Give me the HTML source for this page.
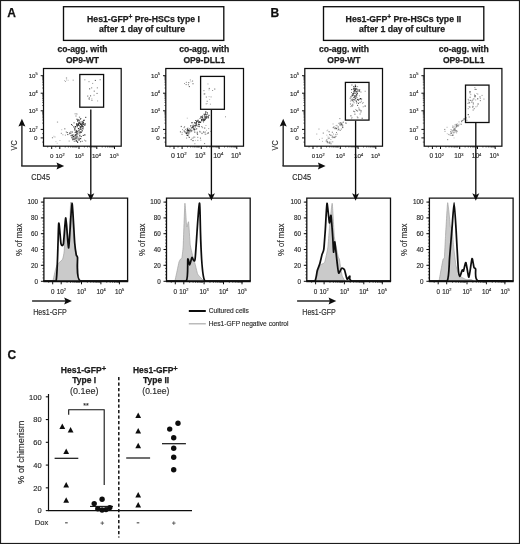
<!DOCTYPE html>
<html><head><meta charset="utf-8"><style>
html,body{margin:0;padding:0;background:#fff;}
svg{display:block;font-family:"Liberation Sans", sans-serif;}
text{paint-order:stroke;stroke:#2a2a2a;stroke-width:0.15px;}
text[font-weight=bold]{stroke:#1a1a1a;stroke-width:0.25px;}
</style></head><body>
<svg width="520" height="544" viewBox="0 0 520 544">
<defs><filter id="soft" x="0" y="0" width="100%" height="100%"><feGaussianBlur stdDeviation="0.3"/></filter></defs>
<g filter="url(#soft)">
<rect width="520" height="544" fill="#fff"/>
<rect x="0.50" y="0.50" width="519.00" height="543.00" fill="none" stroke="#1a1a1a" stroke-width="1.2"/>
<text x="7.20" y="16.90" font-size="12" font-weight="bold" text-anchor="start" fill="#111">A</text>
<text x="270.60" y="16.90" font-size="12" font-weight="bold" text-anchor="start" fill="#111">B</text>
<text x="7.40" y="359.30" font-size="12" font-weight="bold" text-anchor="start" fill="#111">C</text>
<rect x="63.50" y="6.70" width="160.30" height="33.70" fill="none" stroke="#111" stroke-width="1.35"/>
<text x="87.1" y="21.7" font-size="8.6" font-weight="bold" fill="#1a1a1a" textLength="112.8" lengthAdjust="spacingAndGlyphs">Hes1-GFP<tspan font-size="6.6" dy="-3.1">+</tspan><tspan dy="3.1"> Pre-HSCs type I</tspan></text>
<text x="99.00" y="31.80" font-size="8.6" font-weight="bold" text-anchor="start" fill="#1a1a1a" textLength="86" lengthAdjust="spacingAndGlyphs">after 1 day of culture</text>
<rect x="323.50" y="6.70" width="160.30" height="33.70" fill="none" stroke="#111" stroke-width="1.35"/>
<text x="345.6" y="21.7" font-size="8.6" font-weight="bold" fill="#1a1a1a" textLength="115.7" lengthAdjust="spacingAndGlyphs">Hes1-GFP<tspan font-size="6.6" dy="-3.1">+</tspan><tspan dy="3.1"> Pre-HSCs type II</tspan></text>
<text x="359.00" y="31.80" font-size="8.6" font-weight="bold" text-anchor="start" fill="#1a1a1a" textLength="86" lengthAdjust="spacingAndGlyphs">after 1 day of culture</text>
<text x="82.50" y="52.30" font-size="8.5" font-weight="bold" text-anchor="middle" fill="#1a1a1a" textLength="50" lengthAdjust="spacingAndGlyphs">co-agg. with</text>
<text x="82.50" y="62.90" font-size="8.5" font-weight="bold" text-anchor="middle" fill="#1a1a1a" textLength="33.2" lengthAdjust="spacingAndGlyphs">OP9-WT</text>
<text x="204.20" y="52.30" font-size="8.5" font-weight="bold" text-anchor="middle" fill="#1a1a1a" textLength="50" lengthAdjust="spacingAndGlyphs">co-agg. with</text>
<text x="204.20" y="62.90" font-size="8.5" font-weight="bold" text-anchor="middle" fill="#1a1a1a" textLength="41.5" lengthAdjust="spacingAndGlyphs">OP9-DLL1</text>
<text x="343.90" y="52.30" font-size="8.5" font-weight="bold" text-anchor="middle" fill="#1a1a1a" textLength="50" lengthAdjust="spacingAndGlyphs">co-agg. with</text>
<text x="343.90" y="62.90" font-size="8.5" font-weight="bold" text-anchor="middle" fill="#1a1a1a" textLength="33.2" lengthAdjust="spacingAndGlyphs">OP9-WT</text>
<text x="463.70" y="52.30" font-size="8.5" font-weight="bold" text-anchor="middle" fill="#1a1a1a" textLength="50" lengthAdjust="spacingAndGlyphs">co-agg. with</text>
<text x="463.70" y="62.90" font-size="8.5" font-weight="bold" text-anchor="middle" fill="#1a1a1a" textLength="41.5" lengthAdjust="spacingAndGlyphs">OP9-DLL1</text>
<rect x="76.3" y="124.9" width="1.1" height="1.1" fill="#4a4a4a"/>
<rect x="76.0" y="123.3" width="1.2" height="1.2" fill="#2c2c2c"/>
<rect x="76.0" y="124.3" width="0.9" height="0.9" fill="#2c2c2c"/>
<rect x="78.1" y="124.2" width="1.2" height="1.2" fill="#5a5a5a"/>
<rect x="77.2" y="119.7" width="1.1" height="1.1" fill="#4a4a4a"/>
<rect x="77.5" y="119.2" width="1.2" height="1.2" fill="#2c2c2c"/>
<rect x="82.7" y="123.9" width="0.9" height="0.9" fill="#1e1e1e"/>
<rect x="80.2" y="126.1" width="1.1" height="1.1" fill="#1e1e1e"/>
<rect x="77.9" y="128.0" width="1.2" height="1.2" fill="#2c2c2c"/>
<rect x="79.7" y="126.7" width="1.2" height="1.2" fill="#1e1e1e"/>
<rect x="82.8" y="126.3" width="1.2" height="1.2" fill="#4a4a4a"/>
<rect x="84.5" y="123.3" width="1.1" height="1.1" fill="#3a3a3a"/>
<rect x="79.7" y="118.9" width="0.9" height="0.9" fill="#1e1e1e"/>
<rect x="78.4" y="122.8" width="1.1" height="1.1" fill="#1e1e1e"/>
<rect x="74.5" y="129.8" width="0.9" height="0.9" fill="#1e1e1e"/>
<rect x="80.9" y="131.6" width="1.1" height="1.1" fill="#4a4a4a"/>
<rect x="82.1" y="123.0" width="1.2" height="1.2" fill="#1e1e1e"/>
<rect x="76.4" y="118.7" width="1.1" height="1.1" fill="#3a3a3a"/>
<rect x="81.5" y="125.3" width="0.9" height="0.9" fill="#4a4a4a"/>
<rect x="82.2" y="128.0" width="0.9" height="0.9" fill="#1e1e1e"/>
<rect x="76.6" y="124.5" width="0.9" height="0.9" fill="#5a5a5a"/>
<rect x="77.9" y="124.3" width="1.1" height="1.1" fill="#2c2c2c"/>
<rect x="78.7" y="122.0" width="0.9" height="0.9" fill="#4a4a4a"/>
<rect x="84.7" y="123.5" width="1.1" height="1.1" fill="#5a5a5a"/>
<rect x="80.0" y="123.5" width="1.1" height="1.1" fill="#2c2c2c"/>
<rect x="83.0" y="123.4" width="0.9" height="0.9" fill="#5a5a5a"/>
<rect x="80.9" y="124.1" width="1.1" height="1.1" fill="#4a4a4a"/>
<rect x="83.1" y="123.8" width="1.1" height="1.1" fill="#3a3a3a"/>
<rect x="80.5" y="124.2" width="1.2" height="1.2" fill="#5a5a5a"/>
<rect x="79.7" y="128.6" width="1.2" height="1.2" fill="#3a3a3a"/>
<rect x="73.2" y="126.3" width="1.2" height="1.2" fill="#4a4a4a"/>
<rect x="81.2" y="126.3" width="1.1" height="1.1" fill="#2c2c2c"/>
<rect x="83.5" y="119.7" width="1.2" height="1.2" fill="#2c2c2c"/>
<rect x="81.1" y="129.3" width="0.9" height="0.9" fill="#5a5a5a"/>
<rect x="78.5" y="120.0" width="1.2" height="1.2" fill="#4a4a4a"/>
<rect x="80.2" y="124.1" width="0.9" height="0.9" fill="#1e1e1e"/>
<rect x="77.5" y="123.3" width="1.1" height="1.1" fill="#4a4a4a"/>
<rect x="74.5" y="127.4" width="1.1" height="1.1" fill="#4a4a4a"/>
<rect x="73.6" y="122.4" width="0.9" height="0.9" fill="#1e1e1e"/>
<rect x="80.0" y="128.3" width="1.2" height="1.2" fill="#5a5a5a"/>
<rect x="81.1" y="124.7" width="1.2" height="1.2" fill="#2c2c2c"/>
<rect x="81.5" y="123.8" width="0.9" height="0.9" fill="#4a4a4a"/>
<rect x="81.0" y="124.4" width="1.2" height="1.2" fill="#3a3a3a"/>
<rect x="78.3" y="122.6" width="0.9" height="0.9" fill="#3a3a3a"/>
<rect x="85.1" y="116.8" width="1.2" height="1.2" fill="#5a5a5a"/>
<rect x="82.8" y="121.8" width="1.1" height="1.1" fill="#1e1e1e"/>
<rect x="82.9" y="120.3" width="0.9" height="0.9" fill="#1e1e1e"/>
<rect x="78.7" y="122.6" width="1.2" height="1.2" fill="#1e1e1e"/>
<rect x="79.0" y="125.4" width="0.9" height="0.9" fill="#1e1e1e"/>
<rect x="77.1" y="124.6" width="1.2" height="1.2" fill="#1e1e1e"/>
<rect x="79.4" y="121.5" width="1.1" height="1.1" fill="#3a3a3a"/>
<rect x="82.0" y="125.7" width="1.1" height="1.1" fill="#1e1e1e"/>
<rect x="80.1" y="123.2" width="1.2" height="1.2" fill="#4a4a4a"/>
<rect x="83.3" y="124.0" width="1.2" height="1.2" fill="#4a4a4a"/>
<rect x="80.5" y="123.6" width="1.2" height="1.2" fill="#1e1e1e"/>
<rect x="81.0" y="125.4" width="1.2" height="1.2" fill="#4a4a4a"/>
<rect x="76.6" y="131.3" width="1.1" height="1.1" fill="#5a5a5a"/>
<rect x="74.9" y="126.1" width="1.2" height="1.2" fill="#1e1e1e"/>
<rect x="79.5" y="122.6" width="0.9" height="0.9" fill="#5a5a5a"/>
<rect x="77.6" y="123.8" width="1.1" height="1.1" fill="#1e1e1e"/>
<rect x="80.2" y="118.0" width="1.1" height="1.1" fill="#4a4a4a"/>
<rect x="81.5" y="121.3" width="1.2" height="1.2" fill="#2c2c2c"/>
<rect x="77.1" y="120.5" width="1.2" height="1.2" fill="#3a3a3a"/>
<rect x="82.3" y="121.6" width="1.1" height="1.1" fill="#2c2c2c"/>
<rect x="77.9" y="125.1" width="0.9" height="0.9" fill="#4a4a4a"/>
<rect x="78.2" y="131.6" width="0.9" height="0.9" fill="#666"/>
<rect x="78.4" y="139.4" width="1.2" height="1.2" fill="#1e1e1e"/>
<rect x="85.3" y="140.5" width="0.9" height="0.9" fill="#3a3a3a"/>
<rect x="72.6" y="136.2" width="1.1" height="1.1" fill="#4a4a4a"/>
<rect x="72.1" y="139.1" width="1.2" height="1.2" fill="#666"/>
<rect x="81.2" y="123.0" width="1.1" height="1.1" fill="#888"/>
<rect x="76.4" y="135.6" width="1.2" height="1.2" fill="#1e1e1e"/>
<rect x="74.2" y="128.7" width="1.2" height="1.2" fill="#5a5a5a"/>
<rect x="75.7" y="134.1" width="1.1" height="1.1" fill="#3a3a3a"/>
<rect x="74.7" y="135.3" width="0.9" height="0.9" fill="#5a5a5a"/>
<rect x="76.7" y="126.2" width="1.1" height="1.1" fill="#2c2c2c"/>
<rect x="79.1" y="138.9" width="0.9" height="0.9" fill="#666"/>
<rect x="74.5" y="131.9" width="1.1" height="1.1" fill="#888"/>
<rect x="75.7" y="135.7" width="1.2" height="1.2" fill="#888"/>
<rect x="75.0" y="131.9" width="1.1" height="1.1" fill="#5a5a5a"/>
<rect x="66.6" y="132.0" width="1.1" height="1.1" fill="#3a3a3a"/>
<rect x="78.9" y="128.7" width="0.9" height="0.9" fill="#4a4a4a"/>
<rect x="68.7" y="140.6" width="0.9" height="0.9" fill="#777"/>
<rect x="73.1" y="136.0" width="1.1" height="1.1" fill="#1e1e1e"/>
<rect x="70.2" y="132.8" width="1.1" height="1.1" fill="#666"/>
<rect x="81.7" y="140.8" width="0.9" height="0.9" fill="#2c2c2c"/>
<rect x="75.7" y="140.0" width="1.1" height="1.1" fill="#2c2c2c"/>
<rect x="69.0" y="133.0" width="1.1" height="1.1" fill="#666"/>
<rect x="81.8" y="129.7" width="1.2" height="1.2" fill="#666"/>
<rect x="79.1" y="137.7" width="1.1" height="1.1" fill="#777"/>
<rect x="74.6" y="135.1" width="1.1" height="1.1" fill="#2c2c2c"/>
<rect x="76.2" y="132.1" width="1.2" height="1.2" fill="#666"/>
<rect x="76.0" y="132.3" width="1.2" height="1.2" fill="#3a3a3a"/>
<rect x="79.2" y="131.5" width="1.1" height="1.1" fill="#888"/>
<rect x="70.4" y="131.4" width="1.1" height="1.1" fill="#4a4a4a"/>
<rect x="72.4" y="134.3" width="1.2" height="1.2" fill="#3a3a3a"/>
<rect x="67.2" y="134.0" width="1.1" height="1.1" fill="#5a5a5a"/>
<rect x="71.0" y="124.0" width="1.1" height="1.1" fill="#4a4a4a"/>
<rect x="81.4" y="124.4" width="1.2" height="1.2" fill="#5a5a5a"/>
<rect x="71.6" y="135.1" width="1.2" height="1.2" fill="#2c2c2c"/>
<rect x="79.2" y="135.2" width="1.2" height="1.2" fill="#1e1e1e"/>
<rect x="79.6" y="131.9" width="1.1" height="1.1" fill="#2c2c2c"/>
<rect x="77.4" y="136.7" width="1.1" height="1.1" fill="#888"/>
<rect x="81.5" y="130.7" width="1.1" height="1.1" fill="#777"/>
<rect x="75.6" y="140.8" width="1.1" height="1.1" fill="#666"/>
<rect x="82.7" y="128.2" width="1.2" height="1.2" fill="#888"/>
<rect x="74.5" y="138.0" width="1.1" height="1.1" fill="#1e1e1e"/>
<rect x="80.0" y="141.3" width="0.9" height="0.9" fill="#1e1e1e"/>
<rect x="76.4" y="138.4" width="1.1" height="1.1" fill="#5a5a5a"/>
<rect x="75.0" y="131.3" width="0.9" height="0.9" fill="#888"/>
<rect x="70.5" y="135.0" width="1.2" height="1.2" fill="#5a5a5a"/>
<rect x="77.0" y="140.8" width="0.9" height="0.9" fill="#777"/>
<rect x="72.7" y="138.6" width="1.2" height="1.2" fill="#3a3a3a"/>
<rect x="77.0" y="141.8" width="1.2" height="1.2" fill="#4a4a4a"/>
<rect x="76.5" y="141.1" width="0.9" height="0.9" fill="#3a3a3a"/>
<rect x="80.1" y="131.4" width="0.9" height="0.9" fill="#666"/>
<rect x="74.2" y="139.0" width="0.9" height="0.9" fill="#4a4a4a"/>
<rect x="75.9" y="131.8" width="0.9" height="0.9" fill="#2c2c2c"/>
<rect x="77.1" y="133.3" width="1.1" height="1.1" fill="#2c2c2c"/>
<rect x="72.4" y="138.5" width="1.2" height="1.2" fill="#777"/>
<rect x="76.0" y="132.5" width="1.2" height="1.2" fill="#777"/>
<rect x="75.2" y="134.1" width="1.2" height="1.2" fill="#4a4a4a"/>
<rect x="72.1" y="125.0" width="0.9" height="0.9" fill="#666"/>
<rect x="74.0" y="128.2" width="1.2" height="1.2" fill="#666"/>
<rect x="82.7" y="134.9" width="1.1" height="1.1" fill="#2c2c2c"/>
<rect x="76.3" y="135.9" width="0.9" height="0.9" fill="#888"/>
<rect x="76.2" y="137.3" width="0.9" height="0.9" fill="#3a3a3a"/>
<rect x="84.2" y="134.3" width="1.2" height="1.2" fill="#2c2c2c"/>
<rect x="84.1" y="139.7" width="0.9" height="0.9" fill="#888"/>
<rect x="75.8" y="130.6" width="1.1" height="1.1" fill="#888"/>
<rect x="71.5" y="134.5" width="0.9" height="0.9" fill="#666"/>
<rect x="74.8" y="133.9" width="0.9" height="0.9" fill="#4a4a4a"/>
<rect x="72.5" y="137.6" width="1.1" height="1.1" fill="#666"/>
<rect x="80.1" y="131.8" width="1.2" height="1.2" fill="#2c2c2c"/>
<rect x="76.4" y="130.7" width="1.2" height="1.2" fill="#2c2c2c"/>
<rect x="81.4" y="127.3" width="1.2" height="1.2" fill="#777"/>
<rect x="71.9" y="131.5" width="1.1" height="1.1" fill="#666"/>
<rect x="75.2" y="137.4" width="1.1" height="1.1" fill="#3a3a3a"/>
<rect x="77.8" y="138.3" width="1.1" height="1.1" fill="#666"/>
<rect x="75.9" y="129.9" width="0.9" height="0.9" fill="#3a3a3a"/>
<rect x="76.4" y="130.9" width="0.9" height="0.9" fill="#2c2c2c"/>
<rect x="84.4" y="125.1" width="0.9" height="0.9" fill="#1e1e1e"/>
<rect x="74.7" y="138.3" width="1.2" height="1.2" fill="#777"/>
<rect x="76.1" y="136.8" width="1.2" height="1.2" fill="#888"/>
<rect x="75.9" y="137.5" width="1.2" height="1.2" fill="#777"/>
<rect x="80.7" y="136.0" width="1.1" height="1.1" fill="#4a4a4a"/>
<rect x="71.3" y="137.1" width="1.2" height="1.2" fill="#4a4a4a"/>
<rect x="74.3" y="136.6" width="1.1" height="1.1" fill="#5a5a5a"/>
<rect x="79.5" y="131.5" width="1.2" height="1.2" fill="#777"/>
<rect x="64.2" y="128.2" width="1.2" height="1.2" fill="#888"/>
<rect x="80.1" y="138.1" width="1.1" height="1.1" fill="#1e1e1e"/>
<rect x="77.5" y="133.7" width="0.9" height="0.9" fill="#888"/>
<rect x="78.4" y="130.1" width="1.1" height="1.1" fill="#1e1e1e"/>
<rect x="79.2" y="133.2" width="1.2" height="1.2" fill="#777"/>
<rect x="73.7" y="140.7" width="1.2" height="1.2" fill="#888"/>
<rect x="59.5" y="140.1" width="0.9" height="0.9" fill="#a8a8a8"/>
<rect x="51.9" y="137.1" width="1.2" height="1.2" fill="#999"/>
<rect x="55.5" y="141.2" width="0.9" height="0.9" fill="#b5b5b5"/>
<rect x="68.4" y="134.0" width="0.9" height="0.9" fill="#b5b5b5"/>
<rect x="60.8" y="132.8" width="1.1" height="1.1" fill="#999"/>
<rect x="61.3" y="129.3" width="0.9" height="0.9" fill="#a8a8a8"/>
<rect x="56.7" y="142.8" width="0.9" height="0.9" fill="#b5b5b5"/>
<rect x="68.9" y="132.2" width="1.2" height="1.2" fill="#999"/>
<rect x="64.9" y="134.7" width="0.9" height="0.9" fill="#8a8a8a"/>
<rect x="65.7" y="131.3" width="1.2" height="1.2" fill="#a8a8a8"/>
<rect x="54.4" y="136.4" width="1.1" height="1.1" fill="#b5b5b5"/>
<rect x="62.3" y="134.2" width="1.1" height="1.1" fill="#b5b5b5"/>
<rect x="56.9" y="121.5" width="1.2" height="1.2" fill="#a8a8a8"/>
<rect x="53.4" y="135.8" width="0.9" height="0.9" fill="#b5b5b5"/>
<rect x="76.5" y="113.5" width="1.1" height="1.1" fill="#a8a8a8"/>
<rect x="75.4" y="115.4" width="1.2" height="1.2" fill="#999"/>
<rect x="75.4" y="113.2" width="1.2" height="1.2" fill="#999"/>
<rect x="78.9" y="116.6" width="1.2" height="1.2" fill="#8a8a8a"/>
<rect x="74.3" y="113.4" width="0.9" height="0.9" fill="#b5b5b5"/>
<rect x="94.8" y="79.9" width="1.1" height="1.1" fill="#666"/>
<rect x="84.4" y="79.4" width="0.9" height="0.9" fill="#777"/>
<rect x="93.5" y="94.7" width="1.1" height="1.1" fill="#a8a8a8"/>
<rect x="92.1" y="82.9" width="1.1" height="1.1" fill="#a8a8a8"/>
<rect x="97.2" y="100.5" width="0.9" height="0.9" fill="#8a8a8a"/>
<rect x="91.5" y="100.0" width="0.9" height="0.9" fill="#888"/>
<rect x="91.4" y="97.9" width="0.9" height="0.9" fill="#b5b5b5"/>
<rect x="90.0" y="95.3" width="1.1" height="1.1" fill="#666"/>
<rect x="88.5" y="98.3" width="0.9" height="0.9" fill="#888"/>
<rect x="91.1" y="87.3" width="1.1" height="1.1" fill="#8a8a8a"/>
<rect x="99.6" y="79.2" width="1.1" height="1.1" fill="#8a8a8a"/>
<rect x="93.7" y="90.6" width="1.1" height="1.1" fill="#777"/>
<rect x="88.7" y="98.7" width="1.1" height="1.1" fill="#8a8a8a"/>
<rect x="87.1" y="95.5" width="1.2" height="1.2" fill="#8a8a8a"/>
<rect x="88.8" y="97.3" width="1.1" height="1.1" fill="#777"/>
<rect x="88.4" y="81.0" width="1.2" height="1.2" fill="#a8a8a8"/>
<rect x="96.8" y="87.3" width="1.1" height="1.1" fill="#8a8a8a"/>
<rect x="96.5" y="92.9" width="1.1" height="1.1" fill="#777"/>
<rect x="91.3" y="99.5" width="1.1" height="1.1" fill="#a8a8a8"/>
<rect x="89.0" y="88.2" width="1.2" height="1.2" fill="#777"/>
<rect x="66.2" y="79.5" width="0.9" height="0.9" fill="#a8a8a8"/>
<rect x="67.7" y="79.8" width="0.9" height="0.9" fill="#b5b5b5"/>
<rect x="72.6" y="79.6" width="1.2" height="1.2" fill="#b5b5b5"/>
<rect x="65.0" y="81.1" width="0.9" height="0.9" fill="#999"/>
<rect x="64.2" y="80.2" width="0.9" height="0.9" fill="#a8a8a8"/>
<rect x="65.9" y="77.4" width="1.2" height="1.2" fill="#999"/>
<rect x="43.50" y="68.50" width="77.70" height="77.70" fill="none" stroke="#111" stroke-width="1.25"/>
<line x1="40.70" y1="75.70" x2="43.50" y2="75.70" stroke="#111" stroke-width="1.0"/>
<line x1="42.10" y1="88.00" x2="43.50" y2="88.00" stroke="#111" stroke-width="0.6"/>
<line x1="42.10" y1="84.90" x2="43.50" y2="84.90" stroke="#111" stroke-width="0.6"/>
<line x1="42.10" y1="82.70" x2="43.50" y2="82.70" stroke="#111" stroke-width="0.6"/>
<line x1="42.10" y1="81.00" x2="43.50" y2="81.00" stroke="#111" stroke-width="0.6"/>
<line x1="42.10" y1="79.60" x2="43.50" y2="79.60" stroke="#111" stroke-width="0.6"/>
<line x1="42.10" y1="78.43" x2="43.50" y2="78.43" stroke="#111" stroke-width="0.6"/>
<line x1="42.10" y1="77.41" x2="43.50" y2="77.41" stroke="#111" stroke-width="0.6"/>
<line x1="42.10" y1="76.51" x2="43.50" y2="76.51" stroke="#111" stroke-width="0.6"/>
<text x="37.70" y="78.00" font-size="6.2" text-anchor="end" fill="#2a2a2a">10<tspan font-size="3.84" dy="-2.60">5</tspan></text>
<line x1="40.70" y1="93.20" x2="43.50" y2="93.20" stroke="#111" stroke-width="1.0"/>
<line x1="42.10" y1="105.50" x2="43.50" y2="105.50" stroke="#111" stroke-width="0.6"/>
<line x1="42.10" y1="102.40" x2="43.50" y2="102.40" stroke="#111" stroke-width="0.6"/>
<line x1="42.10" y1="100.20" x2="43.50" y2="100.20" stroke="#111" stroke-width="0.6"/>
<line x1="42.10" y1="98.50" x2="43.50" y2="98.50" stroke="#111" stroke-width="0.6"/>
<line x1="42.10" y1="97.10" x2="43.50" y2="97.10" stroke="#111" stroke-width="0.6"/>
<line x1="42.10" y1="95.93" x2="43.50" y2="95.93" stroke="#111" stroke-width="0.6"/>
<line x1="42.10" y1="94.91" x2="43.50" y2="94.91" stroke="#111" stroke-width="0.6"/>
<line x1="42.10" y1="94.01" x2="43.50" y2="94.01" stroke="#111" stroke-width="0.6"/>
<text x="37.70" y="95.50" font-size="6.2" text-anchor="end" fill="#2a2a2a">10<tspan font-size="3.84" dy="-2.60">4</tspan></text>
<line x1="40.70" y1="110.80" x2="43.50" y2="110.80" stroke="#111" stroke-width="1.0"/>
<line x1="42.10" y1="123.10" x2="43.50" y2="123.10" stroke="#111" stroke-width="0.6"/>
<line x1="42.10" y1="120.00" x2="43.50" y2="120.00" stroke="#111" stroke-width="0.6"/>
<line x1="42.10" y1="117.80" x2="43.50" y2="117.80" stroke="#111" stroke-width="0.6"/>
<line x1="42.10" y1="116.10" x2="43.50" y2="116.10" stroke="#111" stroke-width="0.6"/>
<line x1="42.10" y1="114.70" x2="43.50" y2="114.70" stroke="#111" stroke-width="0.6"/>
<line x1="42.10" y1="113.53" x2="43.50" y2="113.53" stroke="#111" stroke-width="0.6"/>
<line x1="42.10" y1="112.51" x2="43.50" y2="112.51" stroke="#111" stroke-width="0.6"/>
<line x1="42.10" y1="111.61" x2="43.50" y2="111.61" stroke="#111" stroke-width="0.6"/>
<text x="37.70" y="113.10" font-size="6.2" text-anchor="end" fill="#2a2a2a">10<tspan font-size="3.84" dy="-2.60">3</tspan></text>
<line x1="40.70" y1="129.40" x2="43.50" y2="129.40" stroke="#111" stroke-width="1.0"/>
<text x="37.70" y="131.70" font-size="6.2" text-anchor="end" fill="#2a2a2a">10<tspan font-size="3.84" dy="-2.60">2</tspan></text>
<line x1="40.70" y1="137.90" x2="43.50" y2="137.90" stroke="#111" stroke-width="1.0"/>
<line x1="42.10" y1="142.10" x2="43.50" y2="142.10" stroke="#111" stroke-width="0.6"/>
<line x1="42.10" y1="133.60" x2="43.50" y2="133.60" stroke="#111" stroke-width="0.6"/>
<text x="37.40" y="140.20" font-size="6.2" font-weight="normal" text-anchor="end" fill="#2a2a2a">0</text>
<line x1="59.80" y1="146.20" x2="59.80" y2="149.00" stroke="#111" stroke-width="1.0"/>
<line x1="65.22" y1="146.20" x2="65.22" y2="147.60" stroke="#111" stroke-width="0.6"/>
<line x1="68.39" y1="146.20" x2="68.39" y2="147.60" stroke="#111" stroke-width="0.6"/>
<line x1="70.64" y1="146.20" x2="70.64" y2="147.60" stroke="#111" stroke-width="0.6"/>
<line x1="72.38" y1="146.20" x2="72.38" y2="147.60" stroke="#111" stroke-width="0.6"/>
<line x1="73.81" y1="146.20" x2="73.81" y2="147.60" stroke="#111" stroke-width="0.6"/>
<line x1="75.01" y1="146.20" x2="75.01" y2="147.60" stroke="#111" stroke-width="0.6"/>
<line x1="76.06" y1="146.20" x2="76.06" y2="147.60" stroke="#111" stroke-width="0.6"/>
<line x1="76.98" y1="146.20" x2="76.98" y2="147.60" stroke="#111" stroke-width="0.6"/>
<text x="60.00" y="158.40" font-size="6.2" text-anchor="middle" fill="#2a2a2a">10<tspan font-size="3.84" dy="-2.60">2</tspan></text>
<line x1="79.00" y1="146.20" x2="79.00" y2="149.00" stroke="#111" stroke-width="1.0"/>
<line x1="84.42" y1="146.20" x2="84.42" y2="147.60" stroke="#111" stroke-width="0.6"/>
<line x1="87.59" y1="146.20" x2="87.59" y2="147.60" stroke="#111" stroke-width="0.6"/>
<line x1="89.84" y1="146.20" x2="89.84" y2="147.60" stroke="#111" stroke-width="0.6"/>
<line x1="91.58" y1="146.20" x2="91.58" y2="147.60" stroke="#111" stroke-width="0.6"/>
<line x1="93.01" y1="146.20" x2="93.01" y2="147.60" stroke="#111" stroke-width="0.6"/>
<line x1="94.21" y1="146.20" x2="94.21" y2="147.60" stroke="#111" stroke-width="0.6"/>
<line x1="95.26" y1="146.20" x2="95.26" y2="147.60" stroke="#111" stroke-width="0.6"/>
<line x1="96.18" y1="146.20" x2="96.18" y2="147.60" stroke="#111" stroke-width="0.6"/>
<text x="79.20" y="158.40" font-size="6.2" text-anchor="middle" fill="#2a2a2a">10<tspan font-size="3.84" dy="-2.60">3</tspan></text>
<line x1="96.80" y1="146.20" x2="96.80" y2="149.00" stroke="#111" stroke-width="1.0"/>
<line x1="102.22" y1="146.20" x2="102.22" y2="147.60" stroke="#111" stroke-width="0.6"/>
<line x1="105.39" y1="146.20" x2="105.39" y2="147.60" stroke="#111" stroke-width="0.6"/>
<line x1="107.64" y1="146.20" x2="107.64" y2="147.60" stroke="#111" stroke-width="0.6"/>
<line x1="109.38" y1="146.20" x2="109.38" y2="147.60" stroke="#111" stroke-width="0.6"/>
<line x1="110.81" y1="146.20" x2="110.81" y2="147.60" stroke="#111" stroke-width="0.6"/>
<line x1="112.01" y1="146.20" x2="112.01" y2="147.60" stroke="#111" stroke-width="0.6"/>
<line x1="113.06" y1="146.20" x2="113.06" y2="147.60" stroke="#111" stroke-width="0.6"/>
<line x1="113.98" y1="146.20" x2="113.98" y2="147.60" stroke="#111" stroke-width="0.6"/>
<text x="96.40" y="158.40" font-size="6.2" text-anchor="middle" fill="#2a2a2a">10<tspan font-size="3.84" dy="-2.60">4</tspan></text>
<line x1="114.50" y1="146.20" x2="114.50" y2="149.00" stroke="#111" stroke-width="1.0"/>
<text x="114.00" y="158.40" font-size="6.2" text-anchor="middle" fill="#2a2a2a">10<tspan font-size="3.84" dy="-2.60">5</tspan></text>
<line x1="51.70" y1="146.20" x2="51.70" y2="149.00" stroke="#111" stroke-width="1.0"/>
<line x1="47.70" y1="146.20" x2="47.70" y2="147.60" stroke="#111" stroke-width="0.6"/>
<line x1="55.70" y1="146.20" x2="55.70" y2="147.60" stroke="#111" stroke-width="0.6"/>
<text x="51.80" y="158.40" font-size="6.2" font-weight="normal" text-anchor="middle" fill="#2a2a2a">0</text>
<rect x="79.80" y="74.50" width="23.80" height="32.70" fill="none" stroke="#111" stroke-width="1.3"/>
<line x1="90.80" y1="109.40" x2="90.80" y2="196.00" stroke="#111" stroke-width="1.35"/>
<path d="M87.30,193.20 L90.80,194.90 L94.30,193.20 L90.80,200.80 Z" fill="#111"/>
<rect x="193.8" y="129.4" width="0.9" height="0.9" fill="#4a4a4a"/>
<rect x="198.7" y="121.7" width="1.2" height="1.2" fill="#3a3a3a"/>
<rect x="188.4" y="133.0" width="0.9" height="0.9" fill="#3a3a3a"/>
<rect x="186.4" y="133.4" width="0.9" height="0.9" fill="#2c2c2c"/>
<rect x="201.7" y="117.5" width="1.1" height="1.1" fill="#2c2c2c"/>
<rect x="202.0" y="117.0" width="1.1" height="1.1" fill="#5a5a5a"/>
<rect x="201.8" y="116.8" width="1.2" height="1.2" fill="#3a3a3a"/>
<rect x="188.7" y="130.9" width="1.2" height="1.2" fill="#4a4a4a"/>
<rect x="204.8" y="118.4" width="1.1" height="1.1" fill="#1e1e1e"/>
<rect x="203.1" y="118.6" width="0.9" height="0.9" fill="#3a3a3a"/>
<rect x="204.6" y="118.2" width="1.2" height="1.2" fill="#5a5a5a"/>
<rect x="183.7" y="130.3" width="1.2" height="1.2" fill="#3a3a3a"/>
<rect x="187.1" y="134.9" width="0.9" height="0.9" fill="#2c2c2c"/>
<rect x="203.6" y="119.9" width="1.2" height="1.2" fill="#4a4a4a"/>
<rect x="189.2" y="130.0" width="1.1" height="1.1" fill="#3a3a3a"/>
<rect x="208.4" y="114.8" width="1.1" height="1.1" fill="#1e1e1e"/>
<rect x="193.2" y="128.1" width="0.9" height="0.9" fill="#2c2c2c"/>
<rect x="203.3" y="119.1" width="1.2" height="1.2" fill="#1e1e1e"/>
<rect x="196.3" y="123.7" width="0.9" height="0.9" fill="#2c2c2c"/>
<rect x="192.4" y="124.8" width="0.9" height="0.9" fill="#5a5a5a"/>
<rect x="197.6" y="119.6" width="0.9" height="0.9" fill="#4a4a4a"/>
<rect x="205.8" y="115.4" width="0.9" height="0.9" fill="#4a4a4a"/>
<rect x="207.3" y="116.4" width="1.1" height="1.1" fill="#5a5a5a"/>
<rect x="204.1" y="115.3" width="1.1" height="1.1" fill="#4a4a4a"/>
<rect x="205.3" y="113.9" width="1.1" height="1.1" fill="#1e1e1e"/>
<rect x="205.9" y="117.0" width="0.9" height="0.9" fill="#4a4a4a"/>
<rect x="191.2" y="130.1" width="1.2" height="1.2" fill="#5a5a5a"/>
<rect x="204.2" y="119.1" width="1.2" height="1.2" fill="#1e1e1e"/>
<rect x="207.9" y="116.4" width="1.1" height="1.1" fill="#3a3a3a"/>
<rect x="202.0" y="115.5" width="1.2" height="1.2" fill="#4a4a4a"/>
<rect x="203.6" y="113.7" width="1.1" height="1.1" fill="#2c2c2c"/>
<rect x="206.8" y="115.9" width="0.9" height="0.9" fill="#5a5a5a"/>
<rect x="200.5" y="121.2" width="0.9" height="0.9" fill="#5a5a5a"/>
<rect x="188.4" y="129.9" width="0.9" height="0.9" fill="#2c2c2c"/>
<rect x="190.2" y="129.5" width="0.9" height="0.9" fill="#2c2c2c"/>
<rect x="192.8" y="125.6" width="1.2" height="1.2" fill="#5a5a5a"/>
<rect x="198.4" y="123.9" width="1.2" height="1.2" fill="#1e1e1e"/>
<rect x="197.5" y="120.1" width="1.1" height="1.1" fill="#5a5a5a"/>
<rect x="185.7" y="132.9" width="1.1" height="1.1" fill="#1e1e1e"/>
<rect x="190.4" y="129.6" width="1.1" height="1.1" fill="#5a5a5a"/>
<rect x="198.2" y="123.7" width="1.1" height="1.1" fill="#3a3a3a"/>
<rect x="193.8" y="128.7" width="1.2" height="1.2" fill="#1e1e1e"/>
<rect x="190.4" y="125.0" width="0.9" height="0.9" fill="#3a3a3a"/>
<rect x="201.1" y="119.6" width="1.2" height="1.2" fill="#1e1e1e"/>
<rect x="191.4" y="122.1" width="1.2" height="1.2" fill="#1e1e1e"/>
<rect x="195.9" y="124.8" width="1.2" height="1.2" fill="#4a4a4a"/>
<rect x="201.4" y="118.9" width="0.9" height="0.9" fill="#4a4a4a"/>
<rect x="206.0" y="117.4" width="1.2" height="1.2" fill="#2c2c2c"/>
<rect x="186.8" y="128.0" width="1.1" height="1.1" fill="#3a3a3a"/>
<rect x="200.6" y="115.9" width="1.2" height="1.2" fill="#5a5a5a"/>
<rect x="187.4" y="131.7" width="1.1" height="1.1" fill="#1e1e1e"/>
<rect x="193.1" y="127.9" width="1.2" height="1.2" fill="#3a3a3a"/>
<rect x="195.1" y="122.8" width="0.9" height="0.9" fill="#4a4a4a"/>
<rect x="186.5" y="129.9" width="0.9" height="0.9" fill="#5a5a5a"/>
<rect x="187.6" y="129.9" width="1.1" height="1.1" fill="#2c2c2c"/>
<rect x="185.4" y="131.7" width="1.2" height="1.2" fill="#4a4a4a"/>
<rect x="201.4" y="119.2" width="1.1" height="1.1" fill="#1e1e1e"/>
<rect x="194.5" y="125.0" width="1.1" height="1.1" fill="#1e1e1e"/>
<rect x="205.0" y="113.3" width="0.9" height="0.9" fill="#2c2c2c"/>
<rect x="204.4" y="117.2" width="1.1" height="1.1" fill="#4a4a4a"/>
<rect x="192.5" y="126.2" width="1.2" height="1.2" fill="#4a4a4a"/>
<rect x="201.2" y="119.1" width="1.2" height="1.2" fill="#2c2c2c"/>
<rect x="206.9" y="112.4" width="1.1" height="1.1" fill="#2c2c2c"/>
<rect x="191.9" y="126.7" width="0.9" height="0.9" fill="#4a4a4a"/>
<rect x="198.1" y="122.2" width="0.9" height="0.9" fill="#3a3a3a"/>
<rect x="200.0" y="121.8" width="1.1" height="1.1" fill="#2c2c2c"/>
<rect x="203.7" y="118.9" width="1.2" height="1.2" fill="#3a3a3a"/>
<rect x="195.8" y="122.1" width="1.2" height="1.2" fill="#2c2c2c"/>
<rect x="202.7" y="120.2" width="1.2" height="1.2" fill="#2c2c2c"/>
<rect x="206.6" y="114.0" width="0.9" height="0.9" fill="#2c2c2c"/>
<rect x="187.1" y="129.0" width="1.1" height="1.1" fill="#3a3a3a"/>
<rect x="187.3" y="131.3" width="1.1" height="1.1" fill="#3a3a3a"/>
<rect x="197.7" y="126.1" width="0.9" height="0.9" fill="#2c2c2c"/>
<rect x="207.8" y="117.2" width="1.2" height="1.2" fill="#5a5a5a"/>
<rect x="197.1" y="120.9" width="1.2" height="1.2" fill="#3a3a3a"/>
<rect x="188.0" y="129.7" width="1.1" height="1.1" fill="#1e1e1e"/>
<rect x="199.6" y="118.0" width="0.9" height="0.9" fill="#3a3a3a"/>
<rect x="190.6" y="130.8" width="0.9" height="0.9" fill="#5a5a5a"/>
<rect x="193.9" y="122.2" width="1.1" height="1.1" fill="#2c2c2c"/>
<rect x="203.4" y="119.1" width="1.2" height="1.2" fill="#4a4a4a"/>
<rect x="198.7" y="121.2" width="1.1" height="1.1" fill="#2c2c2c"/>
<rect x="195.6" y="123.4" width="1.2" height="1.2" fill="#2c2c2c"/>
<rect x="193.3" y="124.6" width="0.9" height="0.9" fill="#5a5a5a"/>
<rect x="190.8" y="127.4" width="1.1" height="1.1" fill="#5a5a5a"/>
<rect x="186.6" y="132.3" width="1.1" height="1.1" fill="#2c2c2c"/>
<rect x="205.4" y="111.9" width="0.9" height="0.9" fill="#5a5a5a"/>
<rect x="194.6" y="122.2" width="1.1" height="1.1" fill="#5a5a5a"/>
<rect x="203.1" y="118.9" width="1.1" height="1.1" fill="#4a4a4a"/>
<rect x="204.9" y="117.0" width="0.9" height="0.9" fill="#4a4a4a"/>
<rect x="197.2" y="120.7" width="1.1" height="1.1" fill="#5a5a5a"/>
<rect x="195.0" y="120.1" width="0.9" height="0.9" fill="#3a3a3a"/>
<rect x="192.7" y="128.2" width="1.1" height="1.1" fill="#5a5a5a"/>
<rect x="200.4" y="116.7" width="1.2" height="1.2" fill="#3a3a3a"/>
<rect x="204.2" y="114.3" width="0.9" height="0.9" fill="#2c2c2c"/>
<rect x="204.5" y="116.2" width="1.1" height="1.1" fill="#1e1e1e"/>
<rect x="203.1" y="121.6" width="0.9" height="0.9" fill="#5a5a5a"/>
<rect x="196.2" y="120.5" width="1.2" height="1.2" fill="#1e1e1e"/>
<rect x="205.2" y="111.3" width="1.2" height="1.2" fill="#3a3a3a"/>
<rect x="194.9" y="124.9" width="1.2" height="1.2" fill="#4a4a4a"/>
<rect x="187.1" y="129.7" width="0.9" height="0.9" fill="#1e1e1e"/>
<rect x="198.4" y="124.3" width="1.1" height="1.1" fill="#5a5a5a"/>
<rect x="186.6" y="134.8" width="1.2" height="1.2" fill="#2c2c2c"/>
<rect x="191.7" y="126.8" width="1.2" height="1.2" fill="#4a4a4a"/>
<rect x="194.5" y="125.4" width="1.2" height="1.2" fill="#3a3a3a"/>
<rect x="198.7" y="121.6" width="1.1" height="1.1" fill="#3a3a3a"/>
<rect x="192.5" y="126.6" width="1.1" height="1.1" fill="#2c2c2c"/>
<rect x="205.8" y="116.1" width="0.9" height="0.9" fill="#1e1e1e"/>
<rect x="194.3" y="129.0" width="1.1" height="1.1" fill="#3a3a3a"/>
<rect x="184.3" y="131.4" width="0.9" height="0.9" fill="#5a5a5a"/>
<rect x="196.0" y="120.9" width="0.9" height="0.9" fill="#2c2c2c"/>
<rect x="207.8" y="132.1" width="1.2" height="1.2" fill="#888"/>
<rect x="201.2" y="126.0" width="1.1" height="1.1" fill="#888"/>
<rect x="201.2" y="132.8" width="1.1" height="1.1" fill="#b5b5b5"/>
<rect x="194.4" y="136.7" width="0.9" height="0.9" fill="#777"/>
<rect x="205.0" y="131.6" width="0.9" height="0.9" fill="#888"/>
<rect x="201.5" y="132.9" width="1.2" height="1.2" fill="#999"/>
<rect x="188.5" y="131.6" width="0.9" height="0.9" fill="#999"/>
<rect x="199.9" y="137.6" width="1.1" height="1.1" fill="#777"/>
<rect x="204.1" y="127.5" width="1.2" height="1.2" fill="#777"/>
<rect x="199.4" y="131.6" width="0.9" height="0.9" fill="#8a8a8a"/>
<rect x="190.0" y="125.7" width="0.9" height="0.9" fill="#666"/>
<rect x="195.9" y="128.4" width="1.2" height="1.2" fill="#888"/>
<rect x="188.3" y="133.9" width="0.9" height="0.9" fill="#888"/>
<rect x="187.1" y="131.5" width="1.2" height="1.2" fill="#888"/>
<rect x="196.9" y="133.7" width="1.2" height="1.2" fill="#666"/>
<rect x="197.2" y="139.8" width="1.2" height="1.2" fill="#b5b5b5"/>
<rect x="193.4" y="136.6" width="0.9" height="0.9" fill="#777"/>
<rect x="194.3" y="127.6" width="1.1" height="1.1" fill="#a8a8a8"/>
<rect x="189.2" y="131.3" width="1.2" height="1.2" fill="#888"/>
<rect x="201.9" y="127.0" width="1.2" height="1.2" fill="#a8a8a8"/>
<rect x="205.5" y="125.0" width="0.9" height="0.9" fill="#999"/>
<rect x="182.1" y="129.2" width="0.9" height="0.9" fill="#8a8a8a"/>
<rect x="196.5" y="125.3" width="1.2" height="1.2" fill="#a8a8a8"/>
<rect x="187.2" y="132.4" width="1.2" height="1.2" fill="#8a8a8a"/>
<rect x="185.2" y="128.9" width="0.9" height="0.9" fill="#666"/>
<rect x="195.1" y="126.9" width="0.9" height="0.9" fill="#a8a8a8"/>
<rect x="196.7" y="131.7" width="1.2" height="1.2" fill="#777"/>
<rect x="181.5" y="133.8" width="1.1" height="1.1" fill="#8a8a8a"/>
<rect x="193.4" y="129.0" width="0.9" height="0.9" fill="#666"/>
<rect x="180.7" y="125.9" width="1.2" height="1.2" fill="#777"/>
<rect x="194.4" y="122.6" width="0.9" height="0.9" fill="#999"/>
<rect x="181.7" y="131.9" width="0.9" height="0.9" fill="#8a8a8a"/>
<rect x="200.1" y="131.5" width="1.1" height="1.1" fill="#b5b5b5"/>
<rect x="197.3" y="120.8" width="0.9" height="0.9" fill="#8a8a8a"/>
<rect x="195.6" y="124.4" width="0.9" height="0.9" fill="#777"/>
<rect x="193.8" y="130.2" width="1.2" height="1.2" fill="#a8a8a8"/>
<rect x="202.9" y="131.7" width="1.2" height="1.2" fill="#888"/>
<rect x="188.0" y="135.4" width="0.9" height="0.9" fill="#666"/>
<rect x="194.2" y="131.6" width="1.2" height="1.2" fill="#777"/>
<rect x="186.8" y="117.7" width="0.9" height="0.9" fill="#a8a8a8"/>
<rect x="179.9" y="131.3" width="1.1" height="1.1" fill="#666"/>
<rect x="196.7" y="132.9" width="1.1" height="1.1" fill="#8a8a8a"/>
<rect x="207.5" y="132.5" width="1.2" height="1.2" fill="#a8a8a8"/>
<rect x="196.1" y="128.0" width="1.1" height="1.1" fill="#888"/>
<rect x="186.2" y="137.6" width="0.9" height="0.9" fill="#666"/>
<rect x="189.0" y="128.3" width="1.2" height="1.2" fill="#888"/>
<rect x="188.7" y="136.8" width="1.2" height="1.2" fill="#666"/>
<rect x="192.6" y="137.3" width="1.2" height="1.2" fill="#a8a8a8"/>
<rect x="206.0" y="129.8" width="0.9" height="0.9" fill="#b5b5b5"/>
<rect x="194.9" y="139.9" width="0.9" height="0.9" fill="#b5b5b5"/>
<rect x="189.2" y="130.6" width="1.2" height="1.2" fill="#999"/>
<rect x="206.3" y="133.6" width="0.9" height="0.9" fill="#b5b5b5"/>
<rect x="200.2" y="139.7" width="1.1" height="1.1" fill="#b5b5b5"/>
<rect x="197.2" y="136.8" width="1.1" height="1.1" fill="#999"/>
<rect x="188.9" y="131.4" width="0.9" height="0.9" fill="#8a8a8a"/>
<rect x="203.0" y="131.0" width="1.2" height="1.2" fill="#a8a8a8"/>
<rect x="183.5" y="127.0" width="1.2" height="1.2" fill="#a8a8a8"/>
<rect x="194.4" y="143.3" width="0.9" height="0.9" fill="#777"/>
<rect x="190.8" y="130.9" width="1.2" height="1.2" fill="#999"/>
<rect x="210.2" y="130.9" width="0.9" height="0.9" fill="#888"/>
<rect x="204.0" y="143.0" width="1.1" height="1.1" fill="#8a8a8a"/>
<rect x="207.3" y="132.9" width="1.1" height="1.1" fill="#888"/>
<rect x="192.4" y="140.0" width="1.2" height="1.2" fill="#666"/>
<rect x="184.6" y="131.7" width="1.1" height="1.1" fill="#999"/>
<rect x="184.2" y="126.3" width="0.9" height="0.9" fill="#666"/>
<rect x="183.9" y="129.9" width="1.1" height="1.1" fill="#b5b5b5"/>
<rect x="198.8" y="126.0" width="1.2" height="1.2" fill="#777"/>
<rect x="190.6" y="139.0" width="1.1" height="1.1" fill="#777"/>
<rect x="187.3" y="127.5" width="1.2" height="1.2" fill="#a8a8a8"/>
<rect x="203.7" y="131.9" width="1.2" height="1.2" fill="#b5b5b5"/>
<rect x="208.1" y="128.0" width="1.1" height="1.1" fill="#a8a8a8"/>
<rect x="193.0" y="127.7" width="0.9" height="0.9" fill="#8a8a8a"/>
<rect x="204.7" y="133.6" width="1.2" height="1.2" fill="#8a8a8a"/>
<rect x="191.6" y="137.8" width="0.9" height="0.9" fill="#888"/>
<rect x="199.2" y="130.8" width="1.1" height="1.1" fill="#8a8a8a"/>
<rect x="205.8" y="96.5" width="1.1" height="1.1" fill="#8a8a8a"/>
<rect x="204.4" y="93.3" width="1.1" height="1.1" fill="#b5b5b5"/>
<rect x="214.2" y="88.5" width="1.1" height="1.1" fill="#777"/>
<rect x="205.7" y="103.3" width="1.1" height="1.1" fill="#999"/>
<rect x="212.2" y="90.1" width="0.9" height="0.9" fill="#777"/>
<rect x="209.2" y="99.1" width="0.9" height="0.9" fill="#b5b5b5"/>
<rect x="208.7" y="87.9" width="1.2" height="1.2" fill="#888"/>
<rect x="206.7" y="103.0" width="0.9" height="0.9" fill="#b5b5b5"/>
<rect x="207.4" y="83.4" width="1.1" height="1.1" fill="#b5b5b5"/>
<rect x="203.7" y="93.4" width="1.1" height="1.1" fill="#666"/>
<rect x="208.6" y="89.5" width="0.9" height="0.9" fill="#a8a8a8"/>
<rect x="203.3" y="90.0" width="1.2" height="1.2" fill="#a8a8a8"/>
<rect x="206.6" y="100.7" width="1.2" height="1.2" fill="#999"/>
<rect x="208.6" y="96.2" width="0.9" height="0.9" fill="#a8a8a8"/>
<rect x="209.9" y="103.7" width="0.9" height="0.9" fill="#888"/>
<rect x="210.5" y="96.3" width="1.2" height="1.2" fill="#b5b5b5"/>
<rect x="185.6" y="84.0" width="1.1" height="1.1" fill="#888"/>
<rect x="190.5" y="81.3" width="0.9" height="0.9" fill="#b5b5b5"/>
<rect x="189.8" y="79.4" width="1.1" height="1.1" fill="#a8a8a8"/>
<rect x="184.0" y="83.1" width="0.9" height="0.9" fill="#8a8a8a"/>
<rect x="185.8" y="81.8" width="1.2" height="1.2" fill="#a8a8a8"/>
<rect x="188.8" y="86.0" width="1.1" height="1.1" fill="#666"/>
<rect x="192.4" y="83.1" width="1.2" height="1.2" fill="#888"/>
<rect x="188.1" y="82.0" width="1.2" height="1.2" fill="#888"/>
<rect x="192.0" y="80.5" width="1.1" height="1.1" fill="#888"/>
<rect x="187.9" y="84.2" width="1.1" height="1.1" fill="#8a8a8a"/>
<rect x="225.0" y="116.3" width="1.0" height="1.0" fill="#999"/>
<rect x="165.80" y="68.50" width="77.70" height="77.70" fill="none" stroke="#111" stroke-width="1.25"/>
<line x1="163.00" y1="75.70" x2="165.80" y2="75.70" stroke="#111" stroke-width="1.0"/>
<line x1="164.40" y1="88.00" x2="165.80" y2="88.00" stroke="#111" stroke-width="0.6"/>
<line x1="164.40" y1="84.90" x2="165.80" y2="84.90" stroke="#111" stroke-width="0.6"/>
<line x1="164.40" y1="82.70" x2="165.80" y2="82.70" stroke="#111" stroke-width="0.6"/>
<line x1="164.40" y1="81.00" x2="165.80" y2="81.00" stroke="#111" stroke-width="0.6"/>
<line x1="164.40" y1="79.60" x2="165.80" y2="79.60" stroke="#111" stroke-width="0.6"/>
<line x1="164.40" y1="78.43" x2="165.80" y2="78.43" stroke="#111" stroke-width="0.6"/>
<line x1="164.40" y1="77.41" x2="165.80" y2="77.41" stroke="#111" stroke-width="0.6"/>
<line x1="164.40" y1="76.51" x2="165.80" y2="76.51" stroke="#111" stroke-width="0.6"/>
<text x="160.00" y="78.00" font-size="6.2" text-anchor="end" fill="#2a2a2a">10<tspan font-size="3.84" dy="-2.60">5</tspan></text>
<line x1="163.00" y1="93.20" x2="165.80" y2="93.20" stroke="#111" stroke-width="1.0"/>
<line x1="164.40" y1="105.50" x2="165.80" y2="105.50" stroke="#111" stroke-width="0.6"/>
<line x1="164.40" y1="102.40" x2="165.80" y2="102.40" stroke="#111" stroke-width="0.6"/>
<line x1="164.40" y1="100.20" x2="165.80" y2="100.20" stroke="#111" stroke-width="0.6"/>
<line x1="164.40" y1="98.50" x2="165.80" y2="98.50" stroke="#111" stroke-width="0.6"/>
<line x1="164.40" y1="97.10" x2="165.80" y2="97.10" stroke="#111" stroke-width="0.6"/>
<line x1="164.40" y1="95.93" x2="165.80" y2="95.93" stroke="#111" stroke-width="0.6"/>
<line x1="164.40" y1="94.91" x2="165.80" y2="94.91" stroke="#111" stroke-width="0.6"/>
<line x1="164.40" y1="94.01" x2="165.80" y2="94.01" stroke="#111" stroke-width="0.6"/>
<text x="160.00" y="95.50" font-size="6.2" text-anchor="end" fill="#2a2a2a">10<tspan font-size="3.84" dy="-2.60">4</tspan></text>
<line x1="163.00" y1="110.80" x2="165.80" y2="110.80" stroke="#111" stroke-width="1.0"/>
<line x1="164.40" y1="123.10" x2="165.80" y2="123.10" stroke="#111" stroke-width="0.6"/>
<line x1="164.40" y1="120.00" x2="165.80" y2="120.00" stroke="#111" stroke-width="0.6"/>
<line x1="164.40" y1="117.80" x2="165.80" y2="117.80" stroke="#111" stroke-width="0.6"/>
<line x1="164.40" y1="116.10" x2="165.80" y2="116.10" stroke="#111" stroke-width="0.6"/>
<line x1="164.40" y1="114.70" x2="165.80" y2="114.70" stroke="#111" stroke-width="0.6"/>
<line x1="164.40" y1="113.53" x2="165.80" y2="113.53" stroke="#111" stroke-width="0.6"/>
<line x1="164.40" y1="112.51" x2="165.80" y2="112.51" stroke="#111" stroke-width="0.6"/>
<line x1="164.40" y1="111.61" x2="165.80" y2="111.61" stroke="#111" stroke-width="0.6"/>
<text x="160.00" y="113.10" font-size="6.2" text-anchor="end" fill="#2a2a2a">10<tspan font-size="3.84" dy="-2.60">3</tspan></text>
<line x1="163.00" y1="129.40" x2="165.80" y2="129.40" stroke="#111" stroke-width="1.0"/>
<text x="160.00" y="131.70" font-size="6.2" text-anchor="end" fill="#2a2a2a">10<tspan font-size="3.84" dy="-2.60">2</tspan></text>
<line x1="163.00" y1="137.90" x2="165.80" y2="137.90" stroke="#111" stroke-width="1.0"/>
<line x1="164.40" y1="142.10" x2="165.80" y2="142.10" stroke="#111" stroke-width="0.6"/>
<line x1="164.40" y1="133.60" x2="165.80" y2="133.60" stroke="#111" stroke-width="0.6"/>
<text x="159.70" y="140.20" font-size="6.2" font-weight="normal" text-anchor="end" fill="#2a2a2a">0</text>
<line x1="182.10" y1="146.20" x2="182.10" y2="149.00" stroke="#111" stroke-width="1.0"/>
<line x1="187.52" y1="146.20" x2="187.52" y2="147.60" stroke="#111" stroke-width="0.6"/>
<line x1="190.69" y1="146.20" x2="190.69" y2="147.60" stroke="#111" stroke-width="0.6"/>
<line x1="192.94" y1="146.20" x2="192.94" y2="147.60" stroke="#111" stroke-width="0.6"/>
<line x1="194.68" y1="146.20" x2="194.68" y2="147.60" stroke="#111" stroke-width="0.6"/>
<line x1="196.11" y1="146.20" x2="196.11" y2="147.60" stroke="#111" stroke-width="0.6"/>
<line x1="197.31" y1="146.20" x2="197.31" y2="147.60" stroke="#111" stroke-width="0.6"/>
<line x1="198.36" y1="146.20" x2="198.36" y2="147.60" stroke="#111" stroke-width="0.6"/>
<line x1="199.28" y1="146.20" x2="199.28" y2="147.60" stroke="#111" stroke-width="0.6"/>
<text x="181.50" y="158.40" font-size="7" text-anchor="middle" fill="#2a2a2a">10<tspan font-size="4.34" dy="-2.94">2</tspan></text>
<line x1="201.30" y1="146.20" x2="201.30" y2="149.00" stroke="#111" stroke-width="1.0"/>
<line x1="206.72" y1="146.20" x2="206.72" y2="147.60" stroke="#111" stroke-width="0.6"/>
<line x1="209.89" y1="146.20" x2="209.89" y2="147.60" stroke="#111" stroke-width="0.6"/>
<line x1="212.14" y1="146.20" x2="212.14" y2="147.60" stroke="#111" stroke-width="0.6"/>
<line x1="213.88" y1="146.20" x2="213.88" y2="147.60" stroke="#111" stroke-width="0.6"/>
<line x1="215.31" y1="146.20" x2="215.31" y2="147.60" stroke="#111" stroke-width="0.6"/>
<line x1="216.51" y1="146.20" x2="216.51" y2="147.60" stroke="#111" stroke-width="0.6"/>
<line x1="217.56" y1="146.20" x2="217.56" y2="147.60" stroke="#111" stroke-width="0.6"/>
<line x1="218.48" y1="146.20" x2="218.48" y2="147.60" stroke="#111" stroke-width="0.6"/>
<text x="200.20" y="158.40" font-size="7" text-anchor="middle" fill="#2a2a2a">10<tspan font-size="4.34" dy="-2.94">3</tspan></text>
<line x1="219.10" y1="146.20" x2="219.10" y2="149.00" stroke="#111" stroke-width="1.0"/>
<line x1="224.52" y1="146.20" x2="224.52" y2="147.60" stroke="#111" stroke-width="0.6"/>
<line x1="227.69" y1="146.20" x2="227.69" y2="147.60" stroke="#111" stroke-width="0.6"/>
<line x1="229.94" y1="146.20" x2="229.94" y2="147.60" stroke="#111" stroke-width="0.6"/>
<line x1="231.68" y1="146.20" x2="231.68" y2="147.60" stroke="#111" stroke-width="0.6"/>
<line x1="233.11" y1="146.20" x2="233.11" y2="147.60" stroke="#111" stroke-width="0.6"/>
<line x1="234.31" y1="146.20" x2="234.31" y2="147.60" stroke="#111" stroke-width="0.6"/>
<line x1="235.36" y1="146.20" x2="235.36" y2="147.60" stroke="#111" stroke-width="0.6"/>
<line x1="236.28" y1="146.20" x2="236.28" y2="147.60" stroke="#111" stroke-width="0.6"/>
<text x="218.30" y="158.40" font-size="7" text-anchor="middle" fill="#2a2a2a">10<tspan font-size="4.34" dy="-2.94">4</tspan></text>
<line x1="236.80" y1="146.20" x2="236.80" y2="149.00" stroke="#111" stroke-width="1.0"/>
<text x="236.00" y="158.40" font-size="7" text-anchor="middle" fill="#2a2a2a">10<tspan font-size="4.34" dy="-2.94">5</tspan></text>
<line x1="174.00" y1="146.20" x2="174.00" y2="149.00" stroke="#111" stroke-width="1.0"/>
<line x1="170.00" y1="146.20" x2="170.00" y2="147.60" stroke="#111" stroke-width="0.6"/>
<line x1="178.00" y1="146.20" x2="178.00" y2="147.60" stroke="#111" stroke-width="0.6"/>
<text x="173.00" y="158.40" font-size="7" font-weight="normal" text-anchor="middle" fill="#2a2a2a">0</text>
<rect x="200.60" y="76.40" width="23.80" height="32.90" fill="none" stroke="#111" stroke-width="1.3"/>
<line x1="211.40" y1="109.90" x2="211.40" y2="196.00" stroke="#111" stroke-width="1.35"/>
<path d="M207.90,193.20 L211.40,194.90 L214.90,193.20 L211.40,200.80 Z" fill="#111"/>
<rect x="340.4" y="125.2" width="0.9" height="0.9" fill="#888"/>
<rect x="342.1" y="125.8" width="1.1" height="1.1" fill="#888"/>
<rect x="334.4" y="127.2" width="1.1" height="1.1" fill="#a8a8a8"/>
<rect x="331.7" y="136.7" width="0.9" height="0.9" fill="#555"/>
<rect x="335.4" y="127.0" width="0.9" height="0.9" fill="#888"/>
<rect x="345.2" y="122.4" width="1.2" height="1.2" fill="#777"/>
<rect x="333.3" y="137.0" width="0.9" height="0.9" fill="#555"/>
<rect x="327.7" y="138.0" width="1.1" height="1.1" fill="#b5b5b5"/>
<rect x="327.8" y="141.8" width="1.1" height="1.1" fill="#b5b5b5"/>
<rect x="340.8" y="128.5" width="1.1" height="1.1" fill="#999"/>
<rect x="337.6" y="126.3" width="1.2" height="1.2" fill="#8a8a8a"/>
<rect x="341.8" y="125.5" width="1.2" height="1.2" fill="#b5b5b5"/>
<rect x="335.7" y="125.2" width="0.9" height="0.9" fill="#888"/>
<rect x="327.6" y="136.6" width="0.9" height="0.9" fill="#999"/>
<rect x="339.6" y="129.9" width="1.1" height="1.1" fill="#888"/>
<rect x="337.6" y="127.3" width="1.1" height="1.1" fill="#b5b5b5"/>
<rect x="333.5" y="126.2" width="0.9" height="0.9" fill="#888"/>
<rect x="332.3" y="141.4" width="0.9" height="0.9" fill="#777"/>
<rect x="328.6" y="137.6" width="1.1" height="1.1" fill="#777"/>
<rect x="334.2" y="136.9" width="1.2" height="1.2" fill="#666"/>
<rect x="341.0" y="124.0" width="1.2" height="1.2" fill="#555"/>
<rect x="332.2" y="137.1" width="1.2" height="1.2" fill="#b5b5b5"/>
<rect x="337.4" y="129.5" width="1.2" height="1.2" fill="#b5b5b5"/>
<rect x="332.6" y="123.5" width="0.9" height="0.9" fill="#999"/>
<rect x="335.3" y="133.9" width="1.1" height="1.1" fill="#999"/>
<rect x="331.8" y="131.7" width="1.1" height="1.1" fill="#888"/>
<rect x="340.8" y="122.9" width="1.2" height="1.2" fill="#999"/>
<rect x="335.9" y="135.8" width="0.9" height="0.9" fill="#a8a8a8"/>
<rect x="329.0" y="141.7" width="0.9" height="0.9" fill="#666"/>
<rect x="330.4" y="143.2" width="1.2" height="1.2" fill="#999"/>
<rect x="329.2" y="141.9" width="1.1" height="1.1" fill="#8a8a8a"/>
<rect x="336.8" y="133.6" width="1.1" height="1.1" fill="#b5b5b5"/>
<rect x="339.4" y="124.5" width="1.1" height="1.1" fill="#999"/>
<rect x="330.4" y="139.0" width="0.9" height="0.9" fill="#999"/>
<rect x="339.4" y="118.2" width="0.9" height="0.9" fill="#666"/>
<rect x="342.0" y="124.6" width="1.2" height="1.2" fill="#888"/>
<rect x="330.5" y="141.5" width="0.9" height="0.9" fill="#999"/>
<rect x="336.1" y="132.0" width="0.9" height="0.9" fill="#666"/>
<rect x="325.8" y="140.0" width="0.9" height="0.9" fill="#999"/>
<rect x="342.2" y="127.0" width="1.1" height="1.1" fill="#555"/>
<rect x="329.1" y="134.1" width="1.1" height="1.1" fill="#777"/>
<rect x="332.9" y="133.5" width="1.1" height="1.1" fill="#b5b5b5"/>
<rect x="341.2" y="122.6" width="0.9" height="0.9" fill="#888"/>
<rect x="332.0" y="135.6" width="1.2" height="1.2" fill="#a8a8a8"/>
<rect x="338.2" y="128.7" width="1.1" height="1.1" fill="#555"/>
<rect x="330.3" y="134.7" width="1.2" height="1.2" fill="#777"/>
<rect x="333.6" y="136.8" width="0.9" height="0.9" fill="#888"/>
<rect x="328.7" y="142.6" width="1.2" height="1.2" fill="#888"/>
<rect x="332.4" y="136.5" width="0.9" height="0.9" fill="#888"/>
<rect x="334.7" y="135.8" width="1.1" height="1.1" fill="#888"/>
<rect x="326.8" y="142.1" width="1.1" height="1.1" fill="#777"/>
<rect x="342.6" y="121.9" width="0.9" height="0.9" fill="#8a8a8a"/>
<rect x="339.7" y="122.2" width="1.2" height="1.2" fill="#777"/>
<rect x="345.8" y="122.9" width="1.1" height="1.1" fill="#b5b5b5"/>
<rect x="342.8" y="121.6" width="1.1" height="1.1" fill="#888"/>
<rect x="330.1" y="142.8" width="1.1" height="1.1" fill="#b5b5b5"/>
<rect x="341.5" y="123.5" width="0.9" height="0.9" fill="#666"/>
<rect x="336.3" y="124.9" width="1.2" height="1.2" fill="#b5b5b5"/>
<rect x="326.5" y="140.8" width="1.2" height="1.2" fill="#555"/>
<rect x="335.9" y="128.0" width="0.9" height="0.9" fill="#777"/>
<rect x="339.6" y="123.6" width="1.1" height="1.1" fill="#555"/>
<rect x="338.4" y="122.8" width="1.1" height="1.1" fill="#8a8a8a"/>
<rect x="334.5" y="128.0" width="1.2" height="1.2" fill="#666"/>
<rect x="336.0" y="128.1" width="1.1" height="1.1" fill="#555"/>
<rect x="332.7" y="127.0" width="1.2" height="1.2" fill="#888"/>
<rect x="322.1" y="140.9" width="0.9" height="0.9" fill="#a8a8a8"/>
<rect x="325.6" y="140.9" width="0.9" height="0.9" fill="#b5b5b5"/>
<rect x="327.3" y="129.6" width="0.9" height="0.9" fill="#b5b5b5"/>
<rect x="319.0" y="138.9" width="0.9" height="0.9" fill="#999"/>
<rect x="326.4" y="134.7" width="0.9" height="0.9" fill="#a8a8a8"/>
<rect x="318.4" y="128.5" width="1.1" height="1.1" fill="#a8a8a8"/>
<rect x="322.7" y="132.5" width="1.2" height="1.2" fill="#999"/>
<rect x="316.2" y="133.5" width="1.1" height="1.1" fill="#b5b5b5"/>
<rect x="328.5" y="131.1" width="1.2" height="1.2" fill="#8a8a8a"/>
<rect x="321.7" y="137.8" width="0.9" height="0.9" fill="#999"/>
<rect x="326.4" y="139.1" width="0.9" height="0.9" fill="#8a8a8a"/>
<rect x="326.6" y="130.3" width="0.9" height="0.9" fill="#a8a8a8"/>
<rect x="351.6" y="105.4" width="1.1" height="1.1" fill="#4a4a4a"/>
<rect x="352.3" y="95.6" width="0.9" height="0.9" fill="#777"/>
<rect x="356.8" y="97.4" width="0.9" height="0.9" fill="#888"/>
<rect x="352.1" y="99.8" width="1.2" height="1.2" fill="#666"/>
<rect x="357.8" y="99.9" width="1.1" height="1.1" fill="#777"/>
<rect x="354.8" y="98.0" width="1.2" height="1.2" fill="#666"/>
<rect x="355.8" y="100.6" width="1.2" height="1.2" fill="#4a4a4a"/>
<rect x="354.0" y="95.4" width="1.2" height="1.2" fill="#3a3a3a"/>
<rect x="360.5" y="91.6" width="0.9" height="0.9" fill="#5a5a5a"/>
<rect x="355.1" y="92.7" width="1.1" height="1.1" fill="#666"/>
<rect x="358.3" y="98.9" width="1.2" height="1.2" fill="#4a4a4a"/>
<rect x="364.7" y="90.8" width="0.9" height="0.9" fill="#777"/>
<rect x="349.6" y="97.7" width="1.1" height="1.1" fill="#777"/>
<rect x="358.9" y="95.4" width="0.9" height="0.9" fill="#888"/>
<rect x="355.2" y="88.1" width="1.1" height="1.1" fill="#4a4a4a"/>
<rect x="359.3" y="89.0" width="0.9" height="0.9" fill="#5a5a5a"/>
<rect x="354.3" y="90.3" width="1.1" height="1.1" fill="#888"/>
<rect x="352.5" y="94.8" width="1.1" height="1.1" fill="#4a4a4a"/>
<rect x="358.4" y="89.6" width="1.1" height="1.1" fill="#666"/>
<rect x="353.3" y="86.0" width="1.1" height="1.1" fill="#5a5a5a"/>
<rect x="353.3" y="92.5" width="0.9" height="0.9" fill="#4a4a4a"/>
<rect x="355.1" y="90.5" width="1.1" height="1.1" fill="#5a5a5a"/>
<rect x="356.3" y="88.6" width="1.2" height="1.2" fill="#2c2c2c"/>
<rect x="356.8" y="89.7" width="0.9" height="0.9" fill="#4a4a4a"/>
<rect x="352.7" y="93.2" width="1.2" height="1.2" fill="#1e1e1e"/>
<rect x="355.0" y="85.8" width="1.2" height="1.2" fill="#1e1e1e"/>
<rect x="353.0" y="88.8" width="0.9" height="0.9" fill="#666"/>
<rect x="353.0" y="88.3" width="0.9" height="0.9" fill="#1e1e1e"/>
<rect x="356.1" y="110.0" width="1.1" height="1.1" fill="#777"/>
<rect x="354.1" y="96.8" width="0.9" height="0.9" fill="#2c2c2c"/>
<rect x="351.7" y="98.6" width="1.2" height="1.2" fill="#777"/>
<rect x="356.9" y="99.0" width="1.1" height="1.1" fill="#4a4a4a"/>
<rect x="354.0" y="90.9" width="0.9" height="0.9" fill="#777"/>
<rect x="356.7" y="92.9" width="1.2" height="1.2" fill="#3a3a3a"/>
<rect x="354.2" y="89.8" width="1.2" height="1.2" fill="#5a5a5a"/>
<rect x="350.5" y="96.3" width="1.1" height="1.1" fill="#2c2c2c"/>
<rect x="351.0" y="92.0" width="0.9" height="0.9" fill="#666"/>
<rect x="355.6" y="97.4" width="0.9" height="0.9" fill="#2c2c2c"/>
<rect x="357.5" y="90.9" width="0.9" height="0.9" fill="#2c2c2c"/>
<rect x="358.9" y="90.4" width="1.2" height="1.2" fill="#2c2c2c"/>
<rect x="354.8" y="88.4" width="0.9" height="0.9" fill="#4a4a4a"/>
<rect x="355.3" y="87.8" width="1.2" height="1.2" fill="#4a4a4a"/>
<rect x="353.7" y="86.3" width="0.9" height="0.9" fill="#888"/>
<rect x="356.6" y="94.5" width="0.9" height="0.9" fill="#3a3a3a"/>
<rect x="354.4" y="99.6" width="1.2" height="1.2" fill="#777"/>
<rect x="354.8" y="84.6" width="1.1" height="1.1" fill="#2c2c2c"/>
<rect x="351.6" y="94.7" width="1.2" height="1.2" fill="#2c2c2c"/>
<rect x="353.6" y="92.6" width="1.2" height="1.2" fill="#5a5a5a"/>
<rect x="352.6" y="88.9" width="1.1" height="1.1" fill="#888"/>
<rect x="353.4" y="98.9" width="1.1" height="1.1" fill="#1e1e1e"/>
<rect x="353.5" y="91.1" width="1.2" height="1.2" fill="#5a5a5a"/>
<rect x="356.1" y="102.4" width="1.1" height="1.1" fill="#666"/>
<rect x="359.8" y="98.0" width="1.2" height="1.2" fill="#3a3a3a"/>
<rect x="364.6" y="105.5" width="1.1" height="1.1" fill="#2c2c2c"/>
<rect x="354.7" y="89.9" width="0.9" height="0.9" fill="#5a5a5a"/>
<rect x="353.8" y="89.1" width="1.1" height="1.1" fill="#888"/>
<rect x="357.8" y="89.3" width="0.9" height="0.9" fill="#888"/>
<rect x="358.0" y="102.9" width="0.9" height="0.9" fill="#1e1e1e"/>
<rect x="357.2" y="86.2" width="0.9" height="0.9" fill="#777"/>
<rect x="354.8" y="89.1" width="1.1" height="1.1" fill="#1e1e1e"/>
<rect x="351.3" y="84.4" width="1.2" height="1.2" fill="#888"/>
<rect x="361.2" y="98.6" width="0.9" height="0.9" fill="#2c2c2c"/>
<rect x="355.7" y="91.0" width="1.1" height="1.1" fill="#4a4a4a"/>
<rect x="352.9" y="101.2" width="0.9" height="0.9" fill="#5a5a5a"/>
<rect x="354.4" y="87.3" width="0.9" height="0.9" fill="#666"/>
<rect x="353.0" y="86.4" width="0.9" height="0.9" fill="#666"/>
<rect x="355.6" y="95.3" width="1.1" height="1.1" fill="#5a5a5a"/>
<rect x="353.9" y="89.8" width="1.1" height="1.1" fill="#2c2c2c"/>
<rect x="353.2" y="90.8" width="0.9" height="0.9" fill="#777"/>
<rect x="354.9" y="95.4" width="0.9" height="0.9" fill="#666"/>
<rect x="353.2" y="97.1" width="0.9" height="0.9" fill="#5a5a5a"/>
<rect x="350.7" y="99.4" width="1.2" height="1.2" fill="#777"/>
<rect x="355.5" y="95.6" width="1.2" height="1.2" fill="#666"/>
<rect x="356.3" y="91.5" width="1.2" height="1.2" fill="#4a4a4a"/>
<rect x="353.9" y="88.1" width="0.9" height="0.9" fill="#2c2c2c"/>
<rect x="355.9" y="94.2" width="1.1" height="1.1" fill="#3a3a3a"/>
<rect x="352.3" y="93.4" width="1.1" height="1.1" fill="#2c2c2c"/>
<rect x="351.0" y="89.2" width="0.9" height="0.9" fill="#2c2c2c"/>
<rect x="359.9" y="98.0" width="1.2" height="1.2" fill="#2c2c2c"/>
<rect x="354.7" y="96.5" width="0.9" height="0.9" fill="#2c2c2c"/>
<rect x="350.4" y="106.2" width="0.9" height="0.9" fill="#777"/>
<rect x="351.2" y="105.2" width="0.9" height="0.9" fill="#8a8a8a"/>
<rect x="361.6" y="117.7" width="1.2" height="1.2" fill="#777"/>
<rect x="358.8" y="109.4" width="1.2" height="1.2" fill="#8a8a8a"/>
<rect x="360.2" y="109.7" width="0.9" height="0.9" fill="#8a8a8a"/>
<rect x="356.7" y="116.2" width="1.2" height="1.2" fill="#b5b5b5"/>
<rect x="353.5" y="100.3" width="0.9" height="0.9" fill="#b5b5b5"/>
<rect x="358.1" y="107.2" width="1.2" height="1.2" fill="#b5b5b5"/>
<rect x="358.6" y="108.6" width="1.1" height="1.1" fill="#999"/>
<rect x="354.0" y="111.1" width="1.2" height="1.2" fill="#8a8a8a"/>
<rect x="362.7" y="106.2" width="1.1" height="1.1" fill="#a8a8a8"/>
<rect x="352.3" y="105.0" width="1.1" height="1.1" fill="#a8a8a8"/>
<rect x="357.0" y="104.9" width="1.1" height="1.1" fill="#666"/>
<rect x="354.3" y="113.6" width="1.2" height="1.2" fill="#8a8a8a"/>
<rect x="349.9" y="103.4" width="1.2" height="1.2" fill="#8a8a8a"/>
<rect x="355.4" y="109.2" width="0.9" height="0.9" fill="#777"/>
<rect x="359.5" y="101.9" width="1.2" height="1.2" fill="#888"/>
<rect x="360.9" y="100.7" width="1.1" height="1.1" fill="#a8a8a8"/>
<rect x="357.0" y="110.5" width="1.1" height="1.1" fill="#888"/>
<rect x="351.1" y="118.1" width="1.1" height="1.1" fill="#b5b5b5"/>
<rect x="360.3" y="101.9" width="0.9" height="0.9" fill="#b5b5b5"/>
<rect x="352.1" y="103.8" width="1.2" height="1.2" fill="#999"/>
<rect x="357.5" y="102.3" width="0.9" height="0.9" fill="#b5b5b5"/>
<rect x="357.2" y="117.1" width="1.2" height="1.2" fill="#888"/>
<rect x="353.5" y="102.1" width="1.2" height="1.2" fill="#b5b5b5"/>
<rect x="360.3" y="111.6" width="1.2" height="1.2" fill="#b5b5b5"/>
<rect x="362.7" y="102.1" width="0.9" height="0.9" fill="#888"/>
<rect x="351.4" y="116.9" width="1.1" height="1.1" fill="#a8a8a8"/>
<rect x="353.0" y="110.7" width="1.1" height="1.1" fill="#888"/>
<rect x="350.1" y="100.6" width="1.1" height="1.1" fill="#b5b5b5"/>
<rect x="362.2" y="102.9" width="0.9" height="0.9" fill="#8a8a8a"/>
<rect x="360.5" y="110.3" width="1.2" height="1.2" fill="#777"/>
<rect x="350.3" y="115.2" width="1.2" height="1.2" fill="#777"/>
<rect x="359.5" y="113.4" width="1.2" height="1.2" fill="#999"/>
<rect x="352.6" y="101.0" width="1.1" height="1.1" fill="#b5b5b5"/>
<rect x="304.80" y="68.50" width="77.70" height="77.70" fill="none" stroke="#111" stroke-width="1.25"/>
<line x1="302.00" y1="75.70" x2="304.80" y2="75.70" stroke="#111" stroke-width="1.0"/>
<line x1="303.40" y1="88.00" x2="304.80" y2="88.00" stroke="#111" stroke-width="0.6"/>
<line x1="303.40" y1="84.90" x2="304.80" y2="84.90" stroke="#111" stroke-width="0.6"/>
<line x1="303.40" y1="82.70" x2="304.80" y2="82.70" stroke="#111" stroke-width="0.6"/>
<line x1="303.40" y1="81.00" x2="304.80" y2="81.00" stroke="#111" stroke-width="0.6"/>
<line x1="303.40" y1="79.60" x2="304.80" y2="79.60" stroke="#111" stroke-width="0.6"/>
<line x1="303.40" y1="78.43" x2="304.80" y2="78.43" stroke="#111" stroke-width="0.6"/>
<line x1="303.40" y1="77.41" x2="304.80" y2="77.41" stroke="#111" stroke-width="0.6"/>
<line x1="303.40" y1="76.51" x2="304.80" y2="76.51" stroke="#111" stroke-width="0.6"/>
<text x="299.00" y="78.00" font-size="6.2" text-anchor="end" fill="#2a2a2a">10<tspan font-size="3.84" dy="-2.60">5</tspan></text>
<line x1="302.00" y1="93.20" x2="304.80" y2="93.20" stroke="#111" stroke-width="1.0"/>
<line x1="303.40" y1="105.50" x2="304.80" y2="105.50" stroke="#111" stroke-width="0.6"/>
<line x1="303.40" y1="102.40" x2="304.80" y2="102.40" stroke="#111" stroke-width="0.6"/>
<line x1="303.40" y1="100.20" x2="304.80" y2="100.20" stroke="#111" stroke-width="0.6"/>
<line x1="303.40" y1="98.50" x2="304.80" y2="98.50" stroke="#111" stroke-width="0.6"/>
<line x1="303.40" y1="97.10" x2="304.80" y2="97.10" stroke="#111" stroke-width="0.6"/>
<line x1="303.40" y1="95.93" x2="304.80" y2="95.93" stroke="#111" stroke-width="0.6"/>
<line x1="303.40" y1="94.91" x2="304.80" y2="94.91" stroke="#111" stroke-width="0.6"/>
<line x1="303.40" y1="94.01" x2="304.80" y2="94.01" stroke="#111" stroke-width="0.6"/>
<text x="299.00" y="95.50" font-size="6.2" text-anchor="end" fill="#2a2a2a">10<tspan font-size="3.84" dy="-2.60">4</tspan></text>
<line x1="302.00" y1="110.80" x2="304.80" y2="110.80" stroke="#111" stroke-width="1.0"/>
<line x1="303.40" y1="123.10" x2="304.80" y2="123.10" stroke="#111" stroke-width="0.6"/>
<line x1="303.40" y1="120.00" x2="304.80" y2="120.00" stroke="#111" stroke-width="0.6"/>
<line x1="303.40" y1="117.80" x2="304.80" y2="117.80" stroke="#111" stroke-width="0.6"/>
<line x1="303.40" y1="116.10" x2="304.80" y2="116.10" stroke="#111" stroke-width="0.6"/>
<line x1="303.40" y1="114.70" x2="304.80" y2="114.70" stroke="#111" stroke-width="0.6"/>
<line x1="303.40" y1="113.53" x2="304.80" y2="113.53" stroke="#111" stroke-width="0.6"/>
<line x1="303.40" y1="112.51" x2="304.80" y2="112.51" stroke="#111" stroke-width="0.6"/>
<line x1="303.40" y1="111.61" x2="304.80" y2="111.61" stroke="#111" stroke-width="0.6"/>
<text x="299.00" y="113.10" font-size="6.2" text-anchor="end" fill="#2a2a2a">10<tspan font-size="3.84" dy="-2.60">3</tspan></text>
<line x1="302.00" y1="129.40" x2="304.80" y2="129.40" stroke="#111" stroke-width="1.0"/>
<text x="299.00" y="131.70" font-size="6.2" text-anchor="end" fill="#2a2a2a">10<tspan font-size="3.84" dy="-2.60">2</tspan></text>
<line x1="302.00" y1="137.90" x2="304.80" y2="137.90" stroke="#111" stroke-width="1.0"/>
<line x1="303.40" y1="142.10" x2="304.80" y2="142.10" stroke="#111" stroke-width="0.6"/>
<line x1="303.40" y1="133.60" x2="304.80" y2="133.60" stroke="#111" stroke-width="0.6"/>
<text x="298.70" y="140.20" font-size="6.2" font-weight="normal" text-anchor="end" fill="#2a2a2a">0</text>
<line x1="321.10" y1="146.20" x2="321.10" y2="149.00" stroke="#111" stroke-width="1.0"/>
<line x1="326.52" y1="146.20" x2="326.52" y2="147.60" stroke="#111" stroke-width="0.6"/>
<line x1="329.69" y1="146.20" x2="329.69" y2="147.60" stroke="#111" stroke-width="0.6"/>
<line x1="331.94" y1="146.20" x2="331.94" y2="147.60" stroke="#111" stroke-width="0.6"/>
<line x1="333.68" y1="146.20" x2="333.68" y2="147.60" stroke="#111" stroke-width="0.6"/>
<line x1="335.11" y1="146.20" x2="335.11" y2="147.60" stroke="#111" stroke-width="0.6"/>
<line x1="336.31" y1="146.20" x2="336.31" y2="147.60" stroke="#111" stroke-width="0.6"/>
<line x1="337.36" y1="146.20" x2="337.36" y2="147.60" stroke="#111" stroke-width="0.6"/>
<line x1="338.28" y1="146.20" x2="338.28" y2="147.60" stroke="#111" stroke-width="0.6"/>
<text x="320.20" y="158.40" font-size="6.2" text-anchor="middle" fill="#2a2a2a">10<tspan font-size="3.84" dy="-2.60">2</tspan></text>
<line x1="340.30" y1="146.20" x2="340.30" y2="149.00" stroke="#111" stroke-width="1.0"/>
<line x1="345.72" y1="146.20" x2="345.72" y2="147.60" stroke="#111" stroke-width="0.6"/>
<line x1="348.89" y1="146.20" x2="348.89" y2="147.60" stroke="#111" stroke-width="0.6"/>
<line x1="351.14" y1="146.20" x2="351.14" y2="147.60" stroke="#111" stroke-width="0.6"/>
<line x1="352.88" y1="146.20" x2="352.88" y2="147.60" stroke="#111" stroke-width="0.6"/>
<line x1="354.31" y1="146.20" x2="354.31" y2="147.60" stroke="#111" stroke-width="0.6"/>
<line x1="355.51" y1="146.20" x2="355.51" y2="147.60" stroke="#111" stroke-width="0.6"/>
<line x1="356.56" y1="146.20" x2="356.56" y2="147.60" stroke="#111" stroke-width="0.6"/>
<line x1="357.48" y1="146.20" x2="357.48" y2="147.60" stroke="#111" stroke-width="0.6"/>
<text x="340.30" y="158.40" font-size="6.2" text-anchor="middle" fill="#2a2a2a">10<tspan font-size="3.84" dy="-2.60">3</tspan></text>
<line x1="358.10" y1="146.20" x2="358.10" y2="149.00" stroke="#111" stroke-width="1.0"/>
<line x1="363.52" y1="146.20" x2="363.52" y2="147.60" stroke="#111" stroke-width="0.6"/>
<line x1="366.69" y1="146.20" x2="366.69" y2="147.60" stroke="#111" stroke-width="0.6"/>
<line x1="368.94" y1="146.20" x2="368.94" y2="147.60" stroke="#111" stroke-width="0.6"/>
<line x1="370.68" y1="146.20" x2="370.68" y2="147.60" stroke="#111" stroke-width="0.6"/>
<line x1="372.11" y1="146.20" x2="372.11" y2="147.60" stroke="#111" stroke-width="0.6"/>
<line x1="373.31" y1="146.20" x2="373.31" y2="147.60" stroke="#111" stroke-width="0.6"/>
<line x1="374.36" y1="146.20" x2="374.36" y2="147.60" stroke="#111" stroke-width="0.6"/>
<line x1="375.28" y1="146.20" x2="375.28" y2="147.60" stroke="#111" stroke-width="0.6"/>
<text x="358.50" y="158.40" font-size="6.2" text-anchor="middle" fill="#2a2a2a">10<tspan font-size="3.84" dy="-2.60">4</tspan></text>
<line x1="375.80" y1="146.20" x2="375.80" y2="149.00" stroke="#111" stroke-width="1.0"/>
<text x="375.50" y="158.40" font-size="6.2" text-anchor="middle" fill="#2a2a2a">10<tspan font-size="3.84" dy="-2.60">5</tspan></text>
<line x1="313.00" y1="146.20" x2="313.00" y2="149.00" stroke="#111" stroke-width="1.0"/>
<line x1="309.00" y1="146.20" x2="309.00" y2="147.60" stroke="#111" stroke-width="0.6"/>
<line x1="317.00" y1="146.20" x2="317.00" y2="147.60" stroke="#111" stroke-width="0.6"/>
<text x="313.60" y="158.40" font-size="6.2" font-weight="normal" text-anchor="middle" fill="#2a2a2a">0</text>
<rect x="345.40" y="82.40" width="23.60" height="37.70" fill="none" stroke="#111" stroke-width="1.3"/>
<line x1="355.60" y1="120.70" x2="355.60" y2="196.00" stroke="#111" stroke-width="1.35"/>
<path d="M352.10,193.20 L355.60,194.90 L359.10,193.20 L355.60,200.80 Z" fill="#111"/>
<rect x="459.6" y="123.6" width="0.9" height="0.9" fill="#999"/>
<rect x="455.8" y="126.0" width="1.2" height="1.2" fill="#777"/>
<rect x="455.8" y="125.2" width="1.2" height="1.2" fill="#999"/>
<rect x="454.2" y="129.1" width="1.2" height="1.2" fill="#666"/>
<rect x="466.3" y="119.7" width="1.2" height="1.2" fill="#a8a8a8"/>
<rect x="449.6" y="134.5" width="0.9" height="0.9" fill="#999"/>
<rect x="451.1" y="131.6" width="1.1" height="1.1" fill="#888"/>
<rect x="455.5" y="130.1" width="0.9" height="0.9" fill="#a8a8a8"/>
<rect x="452.2" y="134.5" width="1.2" height="1.2" fill="#8a8a8a"/>
<rect x="452.6" y="134.7" width="1.2" height="1.2" fill="#b5b5b5"/>
<rect x="455.7" y="123.8" width="1.2" height="1.2" fill="#8a8a8a"/>
<rect x="460.8" y="123.7" width="1.1" height="1.1" fill="#999"/>
<rect x="464.5" y="118.6" width="0.9" height="0.9" fill="#a8a8a8"/>
<rect x="454.7" y="127.2" width="0.9" height="0.9" fill="#8a8a8a"/>
<rect x="457.5" y="124.9" width="0.9" height="0.9" fill="#999"/>
<rect x="450.0" y="132.7" width="1.1" height="1.1" fill="#a8a8a8"/>
<rect x="464.8" y="118.4" width="0.9" height="0.9" fill="#999"/>
<rect x="462.8" y="119.3" width="1.2" height="1.2" fill="#8a8a8a"/>
<rect x="464.9" y="116.5" width="1.2" height="1.2" fill="#999"/>
<rect x="463.0" y="118.2" width="1.2" height="1.2" fill="#b5b5b5"/>
<rect x="451.2" y="133.0" width="0.9" height="0.9" fill="#666"/>
<rect x="451.6" y="134.9" width="1.1" height="1.1" fill="#666"/>
<rect x="446.8" y="133.3" width="0.9" height="0.9" fill="#b5b5b5"/>
<rect x="458.4" y="121.3" width="1.2" height="1.2" fill="#b5b5b5"/>
<rect x="461.6" y="120.0" width="1.1" height="1.1" fill="#666"/>
<rect x="449.9" y="134.9" width="0.9" height="0.9" fill="#b5b5b5"/>
<rect x="452.4" y="125.5" width="0.9" height="0.9" fill="#888"/>
<rect x="455.5" y="130.4" width="0.9" height="0.9" fill="#888"/>
<rect x="458.1" y="124.5" width="1.2" height="1.2" fill="#999"/>
<rect x="453.2" y="128.7" width="1.1" height="1.1" fill="#777"/>
<rect x="450.0" y="131.3" width="0.9" height="0.9" fill="#777"/>
<rect x="450.6" y="129.2" width="0.9" height="0.9" fill="#888"/>
<rect x="452.3" y="131.2" width="1.2" height="1.2" fill="#a8a8a8"/>
<rect x="451.7" y="129.9" width="0.9" height="0.9" fill="#666"/>
<rect x="453.2" y="129.5" width="1.1" height="1.1" fill="#666"/>
<rect x="456.6" y="125.8" width="0.9" height="0.9" fill="#666"/>
<rect x="456.5" y="124.7" width="1.2" height="1.2" fill="#666"/>
<rect x="461.0" y="121.0" width="1.2" height="1.2" fill="#8a8a8a"/>
<rect x="465.5" y="117.3" width="1.2" height="1.2" fill="#888"/>
<rect x="456.6" y="131.0" width="0.9" height="0.9" fill="#8a8a8a"/>
<rect x="453.6" y="126.1" width="0.9" height="0.9" fill="#a8a8a8"/>
<rect x="454.0" y="129.3" width="1.2" height="1.2" fill="#888"/>
<rect x="457.2" y="123.4" width="0.9" height="0.9" fill="#a8a8a8"/>
<rect x="456.2" y="126.5" width="0.9" height="0.9" fill="#8a8a8a"/>
<rect x="454.3" y="128.1" width="1.1" height="1.1" fill="#666"/>
<rect x="464.0" y="118.5" width="0.9" height="0.9" fill="#8a8a8a"/>
<rect x="464.4" y="118.3" width="0.9" height="0.9" fill="#888"/>
<rect x="464.8" y="118.7" width="0.9" height="0.9" fill="#666"/>
<rect x="453.2" y="132.1" width="1.2" height="1.2" fill="#a8a8a8"/>
<rect x="453.2" y="132.1" width="1.1" height="1.1" fill="#a8a8a8"/>
<rect x="452.6" y="127.1" width="0.9" height="0.9" fill="#a8a8a8"/>
<rect x="464.9" y="119.0" width="1.2" height="1.2" fill="#777"/>
<rect x="455.5" y="130.3" width="0.9" height="0.9" fill="#666"/>
<rect x="453.4" y="129.8" width="1.2" height="1.2" fill="#999"/>
<rect x="457.6" y="125.6" width="1.1" height="1.1" fill="#999"/>
<rect x="456.2" y="132.4" width="0.9" height="0.9" fill="#8a8a8a"/>
<rect x="454.5" y="124.3" width="1.2" height="1.2" fill="#a8a8a8"/>
<rect x="452.1" y="126.6" width="1.2" height="1.2" fill="#a8a8a8"/>
<rect x="453.1" y="128.7" width="1.1" height="1.1" fill="#b5b5b5"/>
<rect x="453.6" y="137.5" width="0.9" height="0.9" fill="#b5b5b5"/>
<rect x="447.1" y="139.1" width="1.1" height="1.1" fill="#8a8a8a"/>
<rect x="456.2" y="130.4" width="1.1" height="1.1" fill="#8a8a8a"/>
<rect x="446.6" y="126.8" width="0.9" height="0.9" fill="#999"/>
<rect x="444.4" y="130.8" width="1.2" height="1.2" fill="#b5b5b5"/>
<rect x="454.4" y="131.4" width="1.1" height="1.1" fill="#999"/>
<rect x="444.2" y="128.9" width="1.1" height="1.1" fill="#8a8a8a"/>
<rect x="448.2" y="133.9" width="1.2" height="1.2" fill="#a8a8a8"/>
<rect x="467.3" y="102.9" width="0.9" height="0.9" fill="#a8a8a8"/>
<rect x="467.7" y="114.0" width="1.2" height="1.2" fill="#666"/>
<rect x="468.6" y="106.0" width="1.1" height="1.1" fill="#b5b5b5"/>
<rect x="468.6" y="116.4" width="1.2" height="1.2" fill="#999"/>
<rect x="481.6" y="94.9" width="0.9" height="0.9" fill="#777"/>
<rect x="467.8" y="103.0" width="0.9" height="0.9" fill="#a8a8a8"/>
<rect x="477.1" y="98.2" width="1.2" height="1.2" fill="#666"/>
<rect x="467.7" y="108.1" width="1.1" height="1.1" fill="#a8a8a8"/>
<rect x="469.4" y="92.3" width="1.1" height="1.1" fill="#8a8a8a"/>
<rect x="471.3" y="101.5" width="1.2" height="1.2" fill="#777"/>
<rect x="469.5" y="91.1" width="1.1" height="1.1" fill="#777"/>
<rect x="469.2" y="106.5" width="1.2" height="1.2" fill="#888"/>
<rect x="472.1" y="99.9" width="1.1" height="1.1" fill="#a8a8a8"/>
<rect x="472.5" y="98.8" width="0.9" height="0.9" fill="#999"/>
<rect x="472.6" y="109.5" width="1.1" height="1.1" fill="#8a8a8a"/>
<rect x="474.5" y="95.4" width="1.1" height="1.1" fill="#888"/>
<rect x="474.5" y="95.1" width="1.2" height="1.2" fill="#777"/>
<rect x="476.9" y="105.5" width="0.9" height="0.9" fill="#8a8a8a"/>
<rect x="468.3" y="101.6" width="1.1" height="1.1" fill="#a8a8a8"/>
<rect x="476.4" y="93.0" width="0.9" height="0.9" fill="#a8a8a8"/>
<rect x="469.3" y="91.3" width="1.1" height="1.1" fill="#b5b5b5"/>
<rect x="483.5" y="98.6" width="0.9" height="0.9" fill="#777"/>
<rect x="475.6" y="88.9" width="1.1" height="1.1" fill="#888"/>
<rect x="474.4" y="96.3" width="1.1" height="1.1" fill="#888"/>
<rect x="472.4" y="106.7" width="0.9" height="0.9" fill="#888"/>
<rect x="479.8" y="97.8" width="1.2" height="1.2" fill="#b5b5b5"/>
<rect x="479.4" y="96.3" width="1.2" height="1.2" fill="#8a8a8a"/>
<rect x="475.4" y="106.2" width="1.1" height="1.1" fill="#a8a8a8"/>
<rect x="472.4" y="105.8" width="1.1" height="1.1" fill="#777"/>
<rect x="479.8" y="100.0" width="1.2" height="1.2" fill="#999"/>
<rect x="473.3" y="98.3" width="1.1" height="1.1" fill="#888"/>
<rect x="474.4" y="87.1" width="0.9" height="0.9" fill="#888"/>
<rect x="470.1" y="93.9" width="1.2" height="1.2" fill="#b5b5b5"/>
<rect x="472.9" y="102.4" width="1.1" height="1.1" fill="#999"/>
<rect x="474.4" y="95.5" width="1.2" height="1.2" fill="#777"/>
<rect x="474.6" y="88.8" width="1.1" height="1.1" fill="#666"/>
<rect x="472.1" y="106.8" width="0.9" height="0.9" fill="#999"/>
<rect x="469.4" y="91.2" width="1.1" height="1.1" fill="#8a8a8a"/>
<rect x="472.8" y="103.4" width="1.1" height="1.1" fill="#8a8a8a"/>
<rect x="467.7" y="98.8" width="1.1" height="1.1" fill="#a8a8a8"/>
<rect x="474.1" y="93.9" width="0.9" height="0.9" fill="#a8a8a8"/>
<rect x="468.3" y="99.7" width="0.9" height="0.9" fill="#8a8a8a"/>
<rect x="477.1" y="93.5" width="1.2" height="1.2" fill="#b5b5b5"/>
<rect x="469.8" y="99.9" width="1.1" height="1.1" fill="#666"/>
<rect x="473.7" y="108.1" width="1.1" height="1.1" fill="#8a8a8a"/>
<rect x="477.5" y="103.4" width="1.2" height="1.2" fill="#666"/>
<rect x="470.4" y="99.9" width="1.1" height="1.1" fill="#999"/>
<rect x="475.1" y="99.4" width="1.1" height="1.1" fill="#b5b5b5"/>
<rect x="468.9" y="102.2" width="1.2" height="1.2" fill="#777"/>
<rect x="469.5" y="96.7" width="1.2" height="1.2" fill="#8a8a8a"/>
<rect x="424.20" y="68.50" width="77.70" height="77.70" fill="none" stroke="#111" stroke-width="1.25"/>
<line x1="421.40" y1="75.70" x2="424.20" y2="75.70" stroke="#111" stroke-width="1.0"/>
<line x1="422.80" y1="88.00" x2="424.20" y2="88.00" stroke="#111" stroke-width="0.6"/>
<line x1="422.80" y1="84.90" x2="424.20" y2="84.90" stroke="#111" stroke-width="0.6"/>
<line x1="422.80" y1="82.70" x2="424.20" y2="82.70" stroke="#111" stroke-width="0.6"/>
<line x1="422.80" y1="81.00" x2="424.20" y2="81.00" stroke="#111" stroke-width="0.6"/>
<line x1="422.80" y1="79.60" x2="424.20" y2="79.60" stroke="#111" stroke-width="0.6"/>
<line x1="422.80" y1="78.43" x2="424.20" y2="78.43" stroke="#111" stroke-width="0.6"/>
<line x1="422.80" y1="77.41" x2="424.20" y2="77.41" stroke="#111" stroke-width="0.6"/>
<line x1="422.80" y1="76.51" x2="424.20" y2="76.51" stroke="#111" stroke-width="0.6"/>
<text x="418.40" y="78.00" font-size="6.2" text-anchor="end" fill="#2a2a2a">10<tspan font-size="3.84" dy="-2.60">5</tspan></text>
<line x1="421.40" y1="93.20" x2="424.20" y2="93.20" stroke="#111" stroke-width="1.0"/>
<line x1="422.80" y1="105.50" x2="424.20" y2="105.50" stroke="#111" stroke-width="0.6"/>
<line x1="422.80" y1="102.40" x2="424.20" y2="102.40" stroke="#111" stroke-width="0.6"/>
<line x1="422.80" y1="100.20" x2="424.20" y2="100.20" stroke="#111" stroke-width="0.6"/>
<line x1="422.80" y1="98.50" x2="424.20" y2="98.50" stroke="#111" stroke-width="0.6"/>
<line x1="422.80" y1="97.10" x2="424.20" y2="97.10" stroke="#111" stroke-width="0.6"/>
<line x1="422.80" y1="95.93" x2="424.20" y2="95.93" stroke="#111" stroke-width="0.6"/>
<line x1="422.80" y1="94.91" x2="424.20" y2="94.91" stroke="#111" stroke-width="0.6"/>
<line x1="422.80" y1="94.01" x2="424.20" y2="94.01" stroke="#111" stroke-width="0.6"/>
<text x="418.40" y="95.50" font-size="6.2" text-anchor="end" fill="#2a2a2a">10<tspan font-size="3.84" dy="-2.60">4</tspan></text>
<line x1="421.40" y1="110.80" x2="424.20" y2="110.80" stroke="#111" stroke-width="1.0"/>
<line x1="422.80" y1="123.10" x2="424.20" y2="123.10" stroke="#111" stroke-width="0.6"/>
<line x1="422.80" y1="120.00" x2="424.20" y2="120.00" stroke="#111" stroke-width="0.6"/>
<line x1="422.80" y1="117.80" x2="424.20" y2="117.80" stroke="#111" stroke-width="0.6"/>
<line x1="422.80" y1="116.10" x2="424.20" y2="116.10" stroke="#111" stroke-width="0.6"/>
<line x1="422.80" y1="114.70" x2="424.20" y2="114.70" stroke="#111" stroke-width="0.6"/>
<line x1="422.80" y1="113.53" x2="424.20" y2="113.53" stroke="#111" stroke-width="0.6"/>
<line x1="422.80" y1="112.51" x2="424.20" y2="112.51" stroke="#111" stroke-width="0.6"/>
<line x1="422.80" y1="111.61" x2="424.20" y2="111.61" stroke="#111" stroke-width="0.6"/>
<text x="418.40" y="113.10" font-size="6.2" text-anchor="end" fill="#2a2a2a">10<tspan font-size="3.84" dy="-2.60">3</tspan></text>
<line x1="421.40" y1="129.40" x2="424.20" y2="129.40" stroke="#111" stroke-width="1.0"/>
<text x="418.40" y="131.70" font-size="6.2" text-anchor="end" fill="#2a2a2a">10<tspan font-size="3.84" dy="-2.60">2</tspan></text>
<line x1="421.40" y1="137.90" x2="424.20" y2="137.90" stroke="#111" stroke-width="1.0"/>
<line x1="422.80" y1="142.10" x2="424.20" y2="142.10" stroke="#111" stroke-width="0.6"/>
<line x1="422.80" y1="133.60" x2="424.20" y2="133.60" stroke="#111" stroke-width="0.6"/>
<text x="418.10" y="140.20" font-size="6.2" font-weight="normal" text-anchor="end" fill="#2a2a2a">0</text>
<line x1="440.50" y1="146.20" x2="440.50" y2="149.00" stroke="#111" stroke-width="1.0"/>
<line x1="445.92" y1="146.20" x2="445.92" y2="147.60" stroke="#111" stroke-width="0.6"/>
<line x1="449.09" y1="146.20" x2="449.09" y2="147.60" stroke="#111" stroke-width="0.6"/>
<line x1="451.34" y1="146.20" x2="451.34" y2="147.60" stroke="#111" stroke-width="0.6"/>
<line x1="453.08" y1="146.20" x2="453.08" y2="147.60" stroke="#111" stroke-width="0.6"/>
<line x1="454.51" y1="146.20" x2="454.51" y2="147.60" stroke="#111" stroke-width="0.6"/>
<line x1="455.71" y1="146.20" x2="455.71" y2="147.60" stroke="#111" stroke-width="0.6"/>
<line x1="456.76" y1="146.20" x2="456.76" y2="147.60" stroke="#111" stroke-width="0.6"/>
<line x1="457.68" y1="146.20" x2="457.68" y2="147.60" stroke="#111" stroke-width="0.6"/>
<text x="439.20" y="158.40" font-size="6.4" text-anchor="middle" fill="#2a2a2a">10<tspan font-size="3.97" dy="-2.69">2</tspan></text>
<line x1="459.70" y1="146.20" x2="459.70" y2="149.00" stroke="#111" stroke-width="1.0"/>
<line x1="465.12" y1="146.20" x2="465.12" y2="147.60" stroke="#111" stroke-width="0.6"/>
<line x1="468.29" y1="146.20" x2="468.29" y2="147.60" stroke="#111" stroke-width="0.6"/>
<line x1="470.54" y1="146.20" x2="470.54" y2="147.60" stroke="#111" stroke-width="0.6"/>
<line x1="472.28" y1="146.20" x2="472.28" y2="147.60" stroke="#111" stroke-width="0.6"/>
<line x1="473.71" y1="146.20" x2="473.71" y2="147.60" stroke="#111" stroke-width="0.6"/>
<line x1="474.91" y1="146.20" x2="474.91" y2="147.60" stroke="#111" stroke-width="0.6"/>
<line x1="475.96" y1="146.20" x2="475.96" y2="147.60" stroke="#111" stroke-width="0.6"/>
<line x1="476.88" y1="146.20" x2="476.88" y2="147.60" stroke="#111" stroke-width="0.6"/>
<text x="458.90" y="158.40" font-size="6.4" text-anchor="middle" fill="#2a2a2a">10<tspan font-size="3.97" dy="-2.69">3</tspan></text>
<line x1="477.50" y1="146.20" x2="477.50" y2="149.00" stroke="#111" stroke-width="1.0"/>
<line x1="482.92" y1="146.20" x2="482.92" y2="147.60" stroke="#111" stroke-width="0.6"/>
<line x1="486.09" y1="146.20" x2="486.09" y2="147.60" stroke="#111" stroke-width="0.6"/>
<line x1="488.34" y1="146.20" x2="488.34" y2="147.60" stroke="#111" stroke-width="0.6"/>
<line x1="490.08" y1="146.20" x2="490.08" y2="147.60" stroke="#111" stroke-width="0.6"/>
<line x1="491.51" y1="146.20" x2="491.51" y2="147.60" stroke="#111" stroke-width="0.6"/>
<line x1="492.71" y1="146.20" x2="492.71" y2="147.60" stroke="#111" stroke-width="0.6"/>
<line x1="493.76" y1="146.20" x2="493.76" y2="147.60" stroke="#111" stroke-width="0.6"/>
<line x1="494.68" y1="146.20" x2="494.68" y2="147.60" stroke="#111" stroke-width="0.6"/>
<text x="476.50" y="158.40" font-size="6.4" text-anchor="middle" fill="#2a2a2a">10<tspan font-size="3.97" dy="-2.69">4</tspan></text>
<line x1="495.20" y1="146.20" x2="495.20" y2="149.00" stroke="#111" stroke-width="1.0"/>
<text x="494.20" y="158.40" font-size="6.4" text-anchor="middle" fill="#2a2a2a">10<tspan font-size="3.97" dy="-2.69">5</tspan></text>
<line x1="432.40" y1="146.20" x2="432.40" y2="149.00" stroke="#111" stroke-width="1.0"/>
<line x1="428.40" y1="146.20" x2="428.40" y2="147.60" stroke="#111" stroke-width="0.6"/>
<line x1="436.40" y1="146.20" x2="436.40" y2="147.60" stroke="#111" stroke-width="0.6"/>
<text x="431.40" y="158.40" font-size="6.4" font-weight="normal" text-anchor="middle" fill="#2a2a2a">0</text>
<rect x="465.50" y="85.10" width="23.50" height="37.40" fill="none" stroke="#111" stroke-width="1.3"/>
<line x1="475.80" y1="123.10" x2="475.80" y2="196.00" stroke="#111" stroke-width="1.35"/>
<path d="M472.30,193.20 L475.80,194.90 L479.30,193.20 L475.80,200.80 Z" fill="#111"/>
<line x1="21.90" y1="166.00" x2="21.90" y2="124.80" stroke="#2a2a2a" stroke-width="1.45"/>
<line x1="21.20" y1="166.00" x2="58.20" y2="166.00" stroke="#2a2a2a" stroke-width="1.45"/>
<path d="M21.90,118.80 L25.40,126.50 L21.90,125.30 L18.40,126.50 Z" fill="#111"/>
<path d="M64.20,166.00 L56.50,169.50 L57.70,166.00 L56.50,162.50 Z" fill="#111"/>
<line x1="283.20" y1="166.00" x2="283.20" y2="124.80" stroke="#2a2a2a" stroke-width="1.45"/>
<line x1="282.50" y1="166.00" x2="319.60" y2="166.00" stroke="#2a2a2a" stroke-width="1.45"/>
<path d="M283.20,118.80 L286.70,126.50 L283.20,125.30 L279.70,126.50 Z" fill="#111"/>
<path d="M325.60,166.00 L317.90,169.50 L319.10,166.00 L317.90,162.50 Z" fill="#111"/>
<text x="0" y="0" font-size="8.4" fill="#2a2a2a" text-anchor="middle" transform="translate(16.50,145.4) rotate(-90)" textLength="10" lengthAdjust="spacingAndGlyphs">VC</text>
<text x="31.20" y="180.00" font-size="8.4" font-weight="normal" text-anchor="start" fill="#2a2a2a" textLength="18.8" lengthAdjust="spacingAndGlyphs">CD45</text>
<text x="0" y="0" font-size="8.4" fill="#2a2a2a" text-anchor="middle" transform="translate(277.60,145.4) rotate(-90)" textLength="10" lengthAdjust="spacingAndGlyphs">VC</text>
<text x="292.30" y="180.00" font-size="8.4" font-weight="normal" text-anchor="start" fill="#2a2a2a" textLength="18.8" lengthAdjust="spacingAndGlyphs">CD45</text>
<path d="M52.90,281.00 C53.08,280.23 55.00,271.67 55.30,270.50 C55.60,269.33 56.71,265.59 57.00,265.00 C57.29,264.41 58.89,262.83 59.30,262.40 C59.71,261.97 62.24,260.04 62.60,259.20 C62.96,258.36 63.97,253.98 64.20,251.00 C64.43,248.02 65.59,220.41 65.80,218.50 C66.01,216.59 66.79,223.06 67.00,225.00 C67.21,226.94 68.43,246.65 68.70,245.00 C68.97,243.35 70.42,204.70 70.70,202.50 C70.98,200.30 72.22,212.03 72.50,215.00 C72.78,217.97 74.22,240.06 74.50,243.00 C74.78,245.94 76.09,254.07 76.30,255.10 C76.51,256.13 77.12,255.10 77.30,257.00 C77.48,258.90 78.69,279.24 78.80,281.00 Z" fill="#cacaca" stroke="#a0a0a0" stroke-width="0.7" stroke-linejoin="round"/>
<path d="M43.50,281.00 C44.76,281.00 54.58,281.00 56.10,281.00 C57.62,275.25 58.21,227.22 58.70,223.50 C59.19,219.78 60.53,241.77 61.00,243.80 C61.47,245.83 62.92,246.39 63.40,243.80 C63.88,241.21 65.27,217.50 65.80,217.90 C66.33,218.30 68.08,249.26 68.70,247.80 C69.32,246.34 71.40,203.78 72.00,203.30 C72.60,202.82 74.27,237.82 74.70,243.00 C75.13,248.18 76.02,253.65 76.30,255.10 C76.58,256.55 77.09,254.91 77.50,257.50 C77.91,260.09 75.45,278.65 80.40,281.00 C85.35,281.00 122.34,281.00 127.00,281.00" fill="none" stroke="#111" stroke-width="1.75" stroke-linejoin="round"/>
<path d="M43.9,281.3 L43.9,198.2 L127.6,198.2 L127.6,281.3" fill="none" stroke="#111" stroke-width="1.3"/>
<line x1="43.30" y1="281.30" x2="128.20" y2="281.30" stroke="#111" stroke-width="1.9"/>
<line x1="40.90" y1="202.10" x2="43.90" y2="202.10" stroke="#111" stroke-width="1.0"/>
<text x="38.10" y="204.30" font-size="6.3" font-weight="normal" text-anchor="end" fill="#2a2a2a">100</text>
<line x1="40.90" y1="217.90" x2="43.90" y2="217.90" stroke="#111" stroke-width="1.0"/>
<text x="38.10" y="220.10" font-size="6.3" font-weight="normal" text-anchor="end" fill="#2a2a2a">80</text>
<line x1="40.90" y1="233.70" x2="43.90" y2="233.70" stroke="#111" stroke-width="1.0"/>
<text x="38.10" y="235.90" font-size="6.3" font-weight="normal" text-anchor="end" fill="#2a2a2a">60</text>
<line x1="40.90" y1="249.50" x2="43.90" y2="249.50" stroke="#111" stroke-width="1.0"/>
<text x="38.10" y="251.70" font-size="6.3" font-weight="normal" text-anchor="end" fill="#2a2a2a">40</text>
<line x1="40.90" y1="265.30" x2="43.90" y2="265.30" stroke="#111" stroke-width="1.0"/>
<text x="38.10" y="267.50" font-size="6.3" font-weight="normal" text-anchor="end" fill="#2a2a2a">20</text>
<line x1="40.90" y1="281.30" x2="43.90" y2="281.30" stroke="#111" stroke-width="1.0"/>
<text x="38.10" y="283.50" font-size="6.3" font-weight="normal" text-anchor="end" fill="#2a2a2a">0</text>
<line x1="42.40" y1="202.10" x2="43.90" y2="202.10" stroke="#111" stroke-width="0.6"/>
<line x1="42.40" y1="205.26" x2="43.90" y2="205.26" stroke="#111" stroke-width="0.6"/>
<line x1="42.40" y1="208.42" x2="43.90" y2="208.42" stroke="#111" stroke-width="0.6"/>
<line x1="42.40" y1="211.58" x2="43.90" y2="211.58" stroke="#111" stroke-width="0.6"/>
<line x1="42.40" y1="214.74" x2="43.90" y2="214.74" stroke="#111" stroke-width="0.6"/>
<line x1="42.40" y1="217.90" x2="43.90" y2="217.90" stroke="#111" stroke-width="0.6"/>
<line x1="42.40" y1="221.06" x2="43.90" y2="221.06" stroke="#111" stroke-width="0.6"/>
<line x1="42.40" y1="224.22" x2="43.90" y2="224.22" stroke="#111" stroke-width="0.6"/>
<line x1="42.40" y1="227.38" x2="43.90" y2="227.38" stroke="#111" stroke-width="0.6"/>
<line x1="42.40" y1="230.54" x2="43.90" y2="230.54" stroke="#111" stroke-width="0.6"/>
<line x1="42.40" y1="233.70" x2="43.90" y2="233.70" stroke="#111" stroke-width="0.6"/>
<line x1="42.40" y1="236.86" x2="43.90" y2="236.86" stroke="#111" stroke-width="0.6"/>
<line x1="42.40" y1="240.02" x2="43.90" y2="240.02" stroke="#111" stroke-width="0.6"/>
<line x1="42.40" y1="243.18" x2="43.90" y2="243.18" stroke="#111" stroke-width="0.6"/>
<line x1="42.40" y1="246.34" x2="43.90" y2="246.34" stroke="#111" stroke-width="0.6"/>
<line x1="42.40" y1="249.50" x2="43.90" y2="249.50" stroke="#111" stroke-width="0.6"/>
<line x1="42.40" y1="252.66" x2="43.90" y2="252.66" stroke="#111" stroke-width="0.6"/>
<line x1="42.40" y1="255.82" x2="43.90" y2="255.82" stroke="#111" stroke-width="0.6"/>
<line x1="42.40" y1="258.98" x2="43.90" y2="258.98" stroke="#111" stroke-width="0.6"/>
<line x1="42.40" y1="262.14" x2="43.90" y2="262.14" stroke="#111" stroke-width="0.6"/>
<line x1="42.40" y1="265.30" x2="43.90" y2="265.30" stroke="#111" stroke-width="0.6"/>
<line x1="42.40" y1="268.46" x2="43.90" y2="268.46" stroke="#111" stroke-width="0.6"/>
<line x1="42.40" y1="271.62" x2="43.90" y2="271.62" stroke="#111" stroke-width="0.6"/>
<line x1="42.40" y1="274.78" x2="43.90" y2="274.78" stroke="#111" stroke-width="0.6"/>
<line x1="42.40" y1="277.94" x2="43.90" y2="277.94" stroke="#111" stroke-width="0.6"/>
<line x1="52.70" y1="281.30" x2="52.70" y2="284.30" stroke="#111" stroke-width="1.0"/>
<line x1="48.70" y1="281.30" x2="48.70" y2="282.90" stroke="#111" stroke-width="0.6"/>
<line x1="61.20" y1="281.30" x2="61.20" y2="284.30" stroke="#111" stroke-width="1.0"/>
<line x1="67.07" y1="281.30" x2="67.07" y2="282.90" stroke="#111" stroke-width="0.6"/>
<line x1="70.50" y1="281.30" x2="70.50" y2="282.90" stroke="#111" stroke-width="0.6"/>
<line x1="72.94" y1="281.30" x2="72.94" y2="282.90" stroke="#111" stroke-width="0.6"/>
<line x1="74.83" y1="281.30" x2="74.83" y2="282.90" stroke="#111" stroke-width="0.6"/>
<line x1="76.37" y1="281.30" x2="76.37" y2="282.90" stroke="#111" stroke-width="0.6"/>
<line x1="77.68" y1="281.30" x2="77.68" y2="282.90" stroke="#111" stroke-width="0.6"/>
<line x1="78.81" y1="281.30" x2="78.81" y2="282.90" stroke="#111" stroke-width="0.6"/>
<line x1="79.81" y1="281.30" x2="79.81" y2="282.90" stroke="#111" stroke-width="0.6"/>
<text x="61.30" y="293.70" font-size="6.3" text-anchor="middle" fill="#2a2a2a">10<tspan font-size="3.91" dy="-2.65">2</tspan></text>
<line x1="81.50" y1="281.30" x2="81.50" y2="284.30" stroke="#111" stroke-width="1.0"/>
<line x1="87.37" y1="281.30" x2="87.37" y2="282.90" stroke="#111" stroke-width="0.6"/>
<line x1="90.80" y1="281.30" x2="90.80" y2="282.90" stroke="#111" stroke-width="0.6"/>
<line x1="93.24" y1="281.30" x2="93.24" y2="282.90" stroke="#111" stroke-width="0.6"/>
<line x1="95.13" y1="281.30" x2="95.13" y2="282.90" stroke="#111" stroke-width="0.6"/>
<line x1="96.67" y1="281.30" x2="96.67" y2="282.90" stroke="#111" stroke-width="0.6"/>
<line x1="97.98" y1="281.30" x2="97.98" y2="282.90" stroke="#111" stroke-width="0.6"/>
<line x1="99.11" y1="281.30" x2="99.11" y2="282.90" stroke="#111" stroke-width="0.6"/>
<line x1="100.11" y1="281.30" x2="100.11" y2="282.90" stroke="#111" stroke-width="0.6"/>
<text x="81.60" y="293.70" font-size="6.3" text-anchor="middle" fill="#2a2a2a">10<tspan font-size="3.91" dy="-2.65">3</tspan></text>
<line x1="100.90" y1="281.30" x2="100.90" y2="284.30" stroke="#111" stroke-width="1.0"/>
<line x1="106.77" y1="281.30" x2="106.77" y2="282.90" stroke="#111" stroke-width="0.6"/>
<line x1="110.20" y1="281.30" x2="110.20" y2="282.90" stroke="#111" stroke-width="0.6"/>
<line x1="112.64" y1="281.30" x2="112.64" y2="282.90" stroke="#111" stroke-width="0.6"/>
<line x1="114.53" y1="281.30" x2="114.53" y2="282.90" stroke="#111" stroke-width="0.6"/>
<line x1="116.07" y1="281.30" x2="116.07" y2="282.90" stroke="#111" stroke-width="0.6"/>
<line x1="117.38" y1="281.30" x2="117.38" y2="282.90" stroke="#111" stroke-width="0.6"/>
<line x1="118.51" y1="281.30" x2="118.51" y2="282.90" stroke="#111" stroke-width="0.6"/>
<line x1="119.51" y1="281.30" x2="119.51" y2="282.90" stroke="#111" stroke-width="0.6"/>
<text x="101.00" y="293.70" font-size="6.3" text-anchor="middle" fill="#2a2a2a">10<tspan font-size="3.91" dy="-2.65">4</tspan></text>
<line x1="119.40" y1="281.30" x2="119.40" y2="284.30" stroke="#111" stroke-width="1.0"/>
<text x="119.50" y="293.70" font-size="6.3" text-anchor="middle" fill="#2a2a2a">10<tspan font-size="3.91" dy="-2.65">5</tspan></text>
<text x="52.70" y="293.70" font-size="6.3" font-weight="normal" text-anchor="middle" fill="#2a2a2a">0</text>
<text x="0" y="0" font-size="8.2" fill="#2a2a2a" text-anchor="middle" transform="translate(22.40,239.8) rotate(-90)" textLength="32.3" lengthAdjust="spacingAndGlyphs">% of max</text>
<path d="M174.90,281.00 C175.08,280.19 177.00,271.39 177.30,270.00 C177.60,268.61 178.76,262.81 179.00,262.00 C179.24,261.19 180.39,259.29 180.60,259.00 C180.81,258.71 181.71,258.95 181.90,258.00 C182.09,257.05 182.98,250.01 183.20,246.00 C183.42,241.99 184.64,204.71 184.90,203.30 C185.16,201.89 186.43,225.44 186.70,226.80 C186.97,228.16 188.34,220.59 188.60,221.90 C188.86,223.21 189.90,242.10 190.20,244.60 C190.50,247.10 192.34,254.58 192.70,256.00 C193.06,257.42 194.75,262.70 195.10,264.00 C195.45,265.30 197.14,272.75 197.50,273.70 C197.86,274.65 199.52,276.46 200.00,277.00 C200.48,277.54 203.71,280.71 204.00,281.00 Z" fill="#cacaca" stroke="#a0a0a0" stroke-width="0.7" stroke-linejoin="round"/>
<path d="M166.00,281.00 C168.02,281.00 184.02,281.00 186.20,281.00 C188.38,278.82 187.44,260.82 187.80,259.20 C188.16,257.58 189.39,264.97 189.80,264.80 C190.21,264.63 191.37,258.08 191.90,257.50 C192.43,256.92 194.33,264.42 195.10,259.00 C195.87,253.58 198.63,201.10 199.60,203.30 C200.57,205.50 199.76,273.23 204.80,281.00 C209.84,281.00 245.48,281.00 250.00,281.00" fill="none" stroke="#111" stroke-width="1.75" stroke-linejoin="round"/>
<path d="M166.5,281.3 L166.5,198.2 L250.2,198.2 L250.2,281.3" fill="none" stroke="#111" stroke-width="1.3"/>
<line x1="165.90" y1="281.30" x2="250.80" y2="281.30" stroke="#111" stroke-width="1.9"/>
<line x1="163.50" y1="202.10" x2="166.50" y2="202.10" stroke="#111" stroke-width="1.0"/>
<text x="160.70" y="204.30" font-size="6.3" font-weight="normal" text-anchor="end" fill="#2a2a2a">100</text>
<line x1="163.50" y1="217.90" x2="166.50" y2="217.90" stroke="#111" stroke-width="1.0"/>
<text x="160.70" y="220.10" font-size="6.3" font-weight="normal" text-anchor="end" fill="#2a2a2a">80</text>
<line x1="163.50" y1="233.70" x2="166.50" y2="233.70" stroke="#111" stroke-width="1.0"/>
<text x="160.70" y="235.90" font-size="6.3" font-weight="normal" text-anchor="end" fill="#2a2a2a">60</text>
<line x1="163.50" y1="249.50" x2="166.50" y2="249.50" stroke="#111" stroke-width="1.0"/>
<text x="160.70" y="251.70" font-size="6.3" font-weight="normal" text-anchor="end" fill="#2a2a2a">40</text>
<line x1="163.50" y1="265.30" x2="166.50" y2="265.30" stroke="#111" stroke-width="1.0"/>
<text x="160.70" y="267.50" font-size="6.3" font-weight="normal" text-anchor="end" fill="#2a2a2a">20</text>
<line x1="163.50" y1="281.30" x2="166.50" y2="281.30" stroke="#111" stroke-width="1.0"/>
<text x="160.70" y="283.50" font-size="6.3" font-weight="normal" text-anchor="end" fill="#2a2a2a">0</text>
<line x1="165.00" y1="202.10" x2="166.50" y2="202.10" stroke="#111" stroke-width="0.6"/>
<line x1="165.00" y1="205.26" x2="166.50" y2="205.26" stroke="#111" stroke-width="0.6"/>
<line x1="165.00" y1="208.42" x2="166.50" y2="208.42" stroke="#111" stroke-width="0.6"/>
<line x1="165.00" y1="211.58" x2="166.50" y2="211.58" stroke="#111" stroke-width="0.6"/>
<line x1="165.00" y1="214.74" x2="166.50" y2="214.74" stroke="#111" stroke-width="0.6"/>
<line x1="165.00" y1="217.90" x2="166.50" y2="217.90" stroke="#111" stroke-width="0.6"/>
<line x1="165.00" y1="221.06" x2="166.50" y2="221.06" stroke="#111" stroke-width="0.6"/>
<line x1="165.00" y1="224.22" x2="166.50" y2="224.22" stroke="#111" stroke-width="0.6"/>
<line x1="165.00" y1="227.38" x2="166.50" y2="227.38" stroke="#111" stroke-width="0.6"/>
<line x1="165.00" y1="230.54" x2="166.50" y2="230.54" stroke="#111" stroke-width="0.6"/>
<line x1="165.00" y1="233.70" x2="166.50" y2="233.70" stroke="#111" stroke-width="0.6"/>
<line x1="165.00" y1="236.86" x2="166.50" y2="236.86" stroke="#111" stroke-width="0.6"/>
<line x1="165.00" y1="240.02" x2="166.50" y2="240.02" stroke="#111" stroke-width="0.6"/>
<line x1="165.00" y1="243.18" x2="166.50" y2="243.18" stroke="#111" stroke-width="0.6"/>
<line x1="165.00" y1="246.34" x2="166.50" y2="246.34" stroke="#111" stroke-width="0.6"/>
<line x1="165.00" y1="249.50" x2="166.50" y2="249.50" stroke="#111" stroke-width="0.6"/>
<line x1="165.00" y1="252.66" x2="166.50" y2="252.66" stroke="#111" stroke-width="0.6"/>
<line x1="165.00" y1="255.82" x2="166.50" y2="255.82" stroke="#111" stroke-width="0.6"/>
<line x1="165.00" y1="258.98" x2="166.50" y2="258.98" stroke="#111" stroke-width="0.6"/>
<line x1="165.00" y1="262.14" x2="166.50" y2="262.14" stroke="#111" stroke-width="0.6"/>
<line x1="165.00" y1="265.30" x2="166.50" y2="265.30" stroke="#111" stroke-width="0.6"/>
<line x1="165.00" y1="268.46" x2="166.50" y2="268.46" stroke="#111" stroke-width="0.6"/>
<line x1="165.00" y1="271.62" x2="166.50" y2="271.62" stroke="#111" stroke-width="0.6"/>
<line x1="165.00" y1="274.78" x2="166.50" y2="274.78" stroke="#111" stroke-width="0.6"/>
<line x1="165.00" y1="277.94" x2="166.50" y2="277.94" stroke="#111" stroke-width="0.6"/>
<line x1="175.30" y1="281.30" x2="175.30" y2="284.30" stroke="#111" stroke-width="1.0"/>
<line x1="171.30" y1="281.30" x2="171.30" y2="282.90" stroke="#111" stroke-width="0.6"/>
<line x1="183.80" y1="281.30" x2="183.80" y2="284.30" stroke="#111" stroke-width="1.0"/>
<line x1="189.67" y1="281.30" x2="189.67" y2="282.90" stroke="#111" stroke-width="0.6"/>
<line x1="193.10" y1="281.30" x2="193.10" y2="282.90" stroke="#111" stroke-width="0.6"/>
<line x1="195.54" y1="281.30" x2="195.54" y2="282.90" stroke="#111" stroke-width="0.6"/>
<line x1="197.43" y1="281.30" x2="197.43" y2="282.90" stroke="#111" stroke-width="0.6"/>
<line x1="198.97" y1="281.30" x2="198.97" y2="282.90" stroke="#111" stroke-width="0.6"/>
<line x1="200.28" y1="281.30" x2="200.28" y2="282.90" stroke="#111" stroke-width="0.6"/>
<line x1="201.41" y1="281.30" x2="201.41" y2="282.90" stroke="#111" stroke-width="0.6"/>
<line x1="202.41" y1="281.30" x2="202.41" y2="282.90" stroke="#111" stroke-width="0.6"/>
<text x="183.90" y="293.70" font-size="6.3" text-anchor="middle" fill="#2a2a2a">10<tspan font-size="3.91" dy="-2.65">2</tspan></text>
<line x1="204.10" y1="281.30" x2="204.10" y2="284.30" stroke="#111" stroke-width="1.0"/>
<line x1="209.97" y1="281.30" x2="209.97" y2="282.90" stroke="#111" stroke-width="0.6"/>
<line x1="213.40" y1="281.30" x2="213.40" y2="282.90" stroke="#111" stroke-width="0.6"/>
<line x1="215.84" y1="281.30" x2="215.84" y2="282.90" stroke="#111" stroke-width="0.6"/>
<line x1="217.73" y1="281.30" x2="217.73" y2="282.90" stroke="#111" stroke-width="0.6"/>
<line x1="219.27" y1="281.30" x2="219.27" y2="282.90" stroke="#111" stroke-width="0.6"/>
<line x1="220.58" y1="281.30" x2="220.58" y2="282.90" stroke="#111" stroke-width="0.6"/>
<line x1="221.71" y1="281.30" x2="221.71" y2="282.90" stroke="#111" stroke-width="0.6"/>
<line x1="222.71" y1="281.30" x2="222.71" y2="282.90" stroke="#111" stroke-width="0.6"/>
<text x="204.20" y="293.70" font-size="6.3" text-anchor="middle" fill="#2a2a2a">10<tspan font-size="3.91" dy="-2.65">3</tspan></text>
<line x1="223.50" y1="281.30" x2="223.50" y2="284.30" stroke="#111" stroke-width="1.0"/>
<line x1="229.37" y1="281.30" x2="229.37" y2="282.90" stroke="#111" stroke-width="0.6"/>
<line x1="232.80" y1="281.30" x2="232.80" y2="282.90" stroke="#111" stroke-width="0.6"/>
<line x1="235.24" y1="281.30" x2="235.24" y2="282.90" stroke="#111" stroke-width="0.6"/>
<line x1="237.13" y1="281.30" x2="237.13" y2="282.90" stroke="#111" stroke-width="0.6"/>
<line x1="238.67" y1="281.30" x2="238.67" y2="282.90" stroke="#111" stroke-width="0.6"/>
<line x1="239.98" y1="281.30" x2="239.98" y2="282.90" stroke="#111" stroke-width="0.6"/>
<line x1="241.11" y1="281.30" x2="241.11" y2="282.90" stroke="#111" stroke-width="0.6"/>
<line x1="242.11" y1="281.30" x2="242.11" y2="282.90" stroke="#111" stroke-width="0.6"/>
<text x="223.60" y="293.70" font-size="6.3" text-anchor="middle" fill="#2a2a2a">10<tspan font-size="3.91" dy="-2.65">4</tspan></text>
<line x1="242.00" y1="281.30" x2="242.00" y2="284.30" stroke="#111" stroke-width="1.0"/>
<text x="242.10" y="293.70" font-size="6.3" text-anchor="middle" fill="#2a2a2a">10<tspan font-size="3.91" dy="-2.65">5</tspan></text>
<text x="175.30" y="293.70" font-size="6.3" font-weight="normal" text-anchor="middle" fill="#2a2a2a">0</text>
<text x="0" y="0" font-size="8.2" fill="#2a2a2a" text-anchor="middle" transform="translate(145.20,239.8) rotate(-90)" textLength="32.3" lengthAdjust="spacingAndGlyphs">% of max</text>
<path d="M315.70,281.00 C315.99,279.87 319.05,266.96 319.70,265.60 C320.35,264.24 324.01,263.71 324.60,262.40 C325.19,261.09 327.45,250.29 327.80,247.80 C328.15,245.31 329.08,231.66 329.40,228.40 C329.72,225.14 331.84,202.71 332.20,203.30 C332.56,203.89 333.97,233.12 334.30,236.50 C334.63,239.88 336.39,247.82 336.70,249.40 C337.01,250.98 338.31,257.33 338.50,258.00 C338.69,258.67 339.15,257.96 339.30,258.60 C339.45,259.24 340.29,265.45 340.50,266.70 C340.71,267.95 341.84,274.65 342.10,275.60 C342.36,276.55 343.89,279.20 344.10,279.60 C344.31,280.00 344.93,280.90 345.00,281.00 Z" fill="#cacaca" stroke="#a0a0a0" stroke-width="0.7" stroke-linejoin="round"/>
<path d="M306.50,281.00 C307.34,281.00 313.82,281.00 314.90,281.00 C315.98,279.95 316.82,272.20 317.30,270.50 C317.78,268.80 319.22,265.62 319.70,264.00 C320.18,262.38 321.69,255.76 322.10,254.30 C322.51,252.84 323.47,251.99 323.80,249.40 C324.13,246.81 325.08,233.01 325.40,228.40 C325.72,223.79 326.60,203.87 327.00,203.30 C327.40,202.73 329.00,221.49 329.40,222.70 C329.80,223.91 330.67,214.02 331.00,215.40 C331.33,216.78 332.44,232.83 332.70,236.50 C332.96,240.17 333.39,251.55 333.60,252.10 C333.81,252.65 334.43,240.79 334.80,242.00 C335.17,243.21 336.91,261.09 337.30,264.20 C337.69,267.31 338.26,272.69 338.70,273.10 C339.14,273.51 341.12,268.62 341.70,268.30 C342.28,267.98 343.96,268.81 344.50,269.90 C345.04,270.99 346.57,278.59 347.10,279.20 C347.63,279.81 349.29,275.82 349.80,276.00 C350.31,276.18 348.18,280.50 352.20,281.00 C356.22,281.00 386.22,281.00 390.00,281.00" fill="none" stroke="#111" stroke-width="1.75" stroke-linejoin="round"/>
<path d="M306.8,281.3 L306.8,198.2 L390.5,198.2 L390.5,281.3" fill="none" stroke="#111" stroke-width="1.3"/>
<line x1="306.20" y1="281.30" x2="391.10" y2="281.30" stroke="#111" stroke-width="1.9"/>
<line x1="303.80" y1="202.10" x2="306.80" y2="202.10" stroke="#111" stroke-width="1.0"/>
<text x="301.00" y="204.30" font-size="6.3" font-weight="normal" text-anchor="end" fill="#2a2a2a">100</text>
<line x1="303.80" y1="217.90" x2="306.80" y2="217.90" stroke="#111" stroke-width="1.0"/>
<text x="301.00" y="220.10" font-size="6.3" font-weight="normal" text-anchor="end" fill="#2a2a2a">80</text>
<line x1="303.80" y1="233.70" x2="306.80" y2="233.70" stroke="#111" stroke-width="1.0"/>
<text x="301.00" y="235.90" font-size="6.3" font-weight="normal" text-anchor="end" fill="#2a2a2a">60</text>
<line x1="303.80" y1="249.50" x2="306.80" y2="249.50" stroke="#111" stroke-width="1.0"/>
<text x="301.00" y="251.70" font-size="6.3" font-weight="normal" text-anchor="end" fill="#2a2a2a">40</text>
<line x1="303.80" y1="265.30" x2="306.80" y2="265.30" stroke="#111" stroke-width="1.0"/>
<text x="301.00" y="267.50" font-size="6.3" font-weight="normal" text-anchor="end" fill="#2a2a2a">20</text>
<line x1="303.80" y1="281.30" x2="306.80" y2="281.30" stroke="#111" stroke-width="1.0"/>
<text x="301.00" y="283.50" font-size="6.3" font-weight="normal" text-anchor="end" fill="#2a2a2a">0</text>
<line x1="305.30" y1="202.10" x2="306.80" y2="202.10" stroke="#111" stroke-width="0.6"/>
<line x1="305.30" y1="205.26" x2="306.80" y2="205.26" stroke="#111" stroke-width="0.6"/>
<line x1="305.30" y1="208.42" x2="306.80" y2="208.42" stroke="#111" stroke-width="0.6"/>
<line x1="305.30" y1="211.58" x2="306.80" y2="211.58" stroke="#111" stroke-width="0.6"/>
<line x1="305.30" y1="214.74" x2="306.80" y2="214.74" stroke="#111" stroke-width="0.6"/>
<line x1="305.30" y1="217.90" x2="306.80" y2="217.90" stroke="#111" stroke-width="0.6"/>
<line x1="305.30" y1="221.06" x2="306.80" y2="221.06" stroke="#111" stroke-width="0.6"/>
<line x1="305.30" y1="224.22" x2="306.80" y2="224.22" stroke="#111" stroke-width="0.6"/>
<line x1="305.30" y1="227.38" x2="306.80" y2="227.38" stroke="#111" stroke-width="0.6"/>
<line x1="305.30" y1="230.54" x2="306.80" y2="230.54" stroke="#111" stroke-width="0.6"/>
<line x1="305.30" y1="233.70" x2="306.80" y2="233.70" stroke="#111" stroke-width="0.6"/>
<line x1="305.30" y1="236.86" x2="306.80" y2="236.86" stroke="#111" stroke-width="0.6"/>
<line x1="305.30" y1="240.02" x2="306.80" y2="240.02" stroke="#111" stroke-width="0.6"/>
<line x1="305.30" y1="243.18" x2="306.80" y2="243.18" stroke="#111" stroke-width="0.6"/>
<line x1="305.30" y1="246.34" x2="306.80" y2="246.34" stroke="#111" stroke-width="0.6"/>
<line x1="305.30" y1="249.50" x2="306.80" y2="249.50" stroke="#111" stroke-width="0.6"/>
<line x1="305.30" y1="252.66" x2="306.80" y2="252.66" stroke="#111" stroke-width="0.6"/>
<line x1="305.30" y1="255.82" x2="306.80" y2="255.82" stroke="#111" stroke-width="0.6"/>
<line x1="305.30" y1="258.98" x2="306.80" y2="258.98" stroke="#111" stroke-width="0.6"/>
<line x1="305.30" y1="262.14" x2="306.80" y2="262.14" stroke="#111" stroke-width="0.6"/>
<line x1="305.30" y1="265.30" x2="306.80" y2="265.30" stroke="#111" stroke-width="0.6"/>
<line x1="305.30" y1="268.46" x2="306.80" y2="268.46" stroke="#111" stroke-width="0.6"/>
<line x1="305.30" y1="271.62" x2="306.80" y2="271.62" stroke="#111" stroke-width="0.6"/>
<line x1="305.30" y1="274.78" x2="306.80" y2="274.78" stroke="#111" stroke-width="0.6"/>
<line x1="305.30" y1="277.94" x2="306.80" y2="277.94" stroke="#111" stroke-width="0.6"/>
<line x1="315.60" y1="281.30" x2="315.60" y2="284.30" stroke="#111" stroke-width="1.0"/>
<line x1="311.60" y1="281.30" x2="311.60" y2="282.90" stroke="#111" stroke-width="0.6"/>
<line x1="324.10" y1="281.30" x2="324.10" y2="284.30" stroke="#111" stroke-width="1.0"/>
<line x1="329.97" y1="281.30" x2="329.97" y2="282.90" stroke="#111" stroke-width="0.6"/>
<line x1="333.40" y1="281.30" x2="333.40" y2="282.90" stroke="#111" stroke-width="0.6"/>
<line x1="335.84" y1="281.30" x2="335.84" y2="282.90" stroke="#111" stroke-width="0.6"/>
<line x1="337.73" y1="281.30" x2="337.73" y2="282.90" stroke="#111" stroke-width="0.6"/>
<line x1="339.27" y1="281.30" x2="339.27" y2="282.90" stroke="#111" stroke-width="0.6"/>
<line x1="340.58" y1="281.30" x2="340.58" y2="282.90" stroke="#111" stroke-width="0.6"/>
<line x1="341.71" y1="281.30" x2="341.71" y2="282.90" stroke="#111" stroke-width="0.6"/>
<line x1="342.71" y1="281.30" x2="342.71" y2="282.90" stroke="#111" stroke-width="0.6"/>
<text x="324.20" y="293.70" font-size="6.3" text-anchor="middle" fill="#2a2a2a">10<tspan font-size="3.91" dy="-2.65">2</tspan></text>
<line x1="344.40" y1="281.30" x2="344.40" y2="284.30" stroke="#111" stroke-width="1.0"/>
<line x1="350.27" y1="281.30" x2="350.27" y2="282.90" stroke="#111" stroke-width="0.6"/>
<line x1="353.70" y1="281.30" x2="353.70" y2="282.90" stroke="#111" stroke-width="0.6"/>
<line x1="356.14" y1="281.30" x2="356.14" y2="282.90" stroke="#111" stroke-width="0.6"/>
<line x1="358.03" y1="281.30" x2="358.03" y2="282.90" stroke="#111" stroke-width="0.6"/>
<line x1="359.57" y1="281.30" x2="359.57" y2="282.90" stroke="#111" stroke-width="0.6"/>
<line x1="360.88" y1="281.30" x2="360.88" y2="282.90" stroke="#111" stroke-width="0.6"/>
<line x1="362.01" y1="281.30" x2="362.01" y2="282.90" stroke="#111" stroke-width="0.6"/>
<line x1="363.01" y1="281.30" x2="363.01" y2="282.90" stroke="#111" stroke-width="0.6"/>
<text x="344.50" y="293.70" font-size="6.3" text-anchor="middle" fill="#2a2a2a">10<tspan font-size="3.91" dy="-2.65">3</tspan></text>
<line x1="363.80" y1="281.30" x2="363.80" y2="284.30" stroke="#111" stroke-width="1.0"/>
<line x1="369.67" y1="281.30" x2="369.67" y2="282.90" stroke="#111" stroke-width="0.6"/>
<line x1="373.10" y1="281.30" x2="373.10" y2="282.90" stroke="#111" stroke-width="0.6"/>
<line x1="375.54" y1="281.30" x2="375.54" y2="282.90" stroke="#111" stroke-width="0.6"/>
<line x1="377.43" y1="281.30" x2="377.43" y2="282.90" stroke="#111" stroke-width="0.6"/>
<line x1="378.97" y1="281.30" x2="378.97" y2="282.90" stroke="#111" stroke-width="0.6"/>
<line x1="380.28" y1="281.30" x2="380.28" y2="282.90" stroke="#111" stroke-width="0.6"/>
<line x1="381.41" y1="281.30" x2="381.41" y2="282.90" stroke="#111" stroke-width="0.6"/>
<line x1="382.41" y1="281.30" x2="382.41" y2="282.90" stroke="#111" stroke-width="0.6"/>
<text x="363.90" y="293.70" font-size="6.3" text-anchor="middle" fill="#2a2a2a">10<tspan font-size="3.91" dy="-2.65">4</tspan></text>
<line x1="382.30" y1="281.30" x2="382.30" y2="284.30" stroke="#111" stroke-width="1.0"/>
<text x="382.40" y="293.70" font-size="6.3" text-anchor="middle" fill="#2a2a2a">10<tspan font-size="3.91" dy="-2.65">5</tspan></text>
<text x="315.60" y="293.70" font-size="6.3" font-weight="normal" text-anchor="middle" fill="#2a2a2a">0</text>
<text x="0" y="0" font-size="8.2" fill="#2a2a2a" text-anchor="middle" transform="translate(283.60,239.8) rotate(-90)" textLength="32.3" lengthAdjust="spacingAndGlyphs">% of max</text>
<path d="M439.00,281.00 C439.18,280.00 441.20,268.90 441.50,267.30 C441.80,265.70 442.89,259.92 443.10,259.20 C443.31,258.48 444.22,259.16 444.40,257.50 C444.58,255.84 445.27,240.51 445.50,236.50 C445.73,232.49 447.32,204.35 447.60,202.80 C447.88,201.25 449.09,213.64 449.30,215.40 C449.51,217.16 450.20,225.88 450.40,226.80 C450.60,227.72 451.77,226.58 452.00,228.00 C452.23,229.42 453.31,243.44 453.60,246.20 C453.89,248.96 455.55,263.44 456.00,265.60 C456.45,267.76 459.29,274.69 459.80,275.60 C460.31,276.51 462.52,277.71 463.00,278.00 C463.48,278.29 465.70,279.48 466.30,279.60 C466.90,279.72 470.66,279.50 471.20,279.60 C471.74,279.70 473.42,280.90 473.60,281.00 Z" fill="#cacaca" stroke="#a0a0a0" stroke-width="0.7" stroke-linejoin="round"/>
<path d="M429.00,281.00 C430.81,281.00 445.04,281.00 447.10,281.00 C449.16,278.65 449.11,262.76 449.60,257.50 C450.09,252.24 451.55,233.87 452.00,228.40 C452.45,222.93 453.70,202.80 454.10,202.80 C454.50,202.80 455.59,221.85 456.00,228.40 C456.41,234.95 457.82,263.50 458.20,268.30 C458.58,273.10 459.39,276.24 459.80,276.40 C460.21,276.56 461.93,270.44 462.30,269.90 C462.67,269.36 463.14,271.73 463.50,271.00 C463.86,270.27 465.36,261.98 465.90,262.60 C466.44,263.22 468.29,277.60 468.90,277.20 C469.51,276.80 471.49,259.57 472.00,258.60 C472.51,257.63 473.64,266.46 474.00,267.50 C474.36,268.54 475.20,267.67 475.60,269.00 C476.00,270.33 474.26,279.60 478.00,280.80 C481.74,281.00 509.50,280.98 513.00,281.00" fill="none" stroke="#111" stroke-width="1.75" stroke-linejoin="round"/>
<path d="M429.4,281.3 L429.4,198.2 L513.1,198.2 L513.1,281.3" fill="none" stroke="#111" stroke-width="1.3"/>
<line x1="428.80" y1="281.30" x2="513.70" y2="281.30" stroke="#111" stroke-width="1.9"/>
<line x1="426.40" y1="202.10" x2="429.40" y2="202.10" stroke="#111" stroke-width="1.0"/>
<text x="423.60" y="204.30" font-size="6.3" font-weight="normal" text-anchor="end" fill="#2a2a2a">100</text>
<line x1="426.40" y1="217.90" x2="429.40" y2="217.90" stroke="#111" stroke-width="1.0"/>
<text x="423.60" y="220.10" font-size="6.3" font-weight="normal" text-anchor="end" fill="#2a2a2a">80</text>
<line x1="426.40" y1="233.70" x2="429.40" y2="233.70" stroke="#111" stroke-width="1.0"/>
<text x="423.60" y="235.90" font-size="6.3" font-weight="normal" text-anchor="end" fill="#2a2a2a">60</text>
<line x1="426.40" y1="249.50" x2="429.40" y2="249.50" stroke="#111" stroke-width="1.0"/>
<text x="423.60" y="251.70" font-size="6.3" font-weight="normal" text-anchor="end" fill="#2a2a2a">40</text>
<line x1="426.40" y1="265.30" x2="429.40" y2="265.30" stroke="#111" stroke-width="1.0"/>
<text x="423.60" y="267.50" font-size="6.3" font-weight="normal" text-anchor="end" fill="#2a2a2a">20</text>
<line x1="426.40" y1="281.30" x2="429.40" y2="281.30" stroke="#111" stroke-width="1.0"/>
<text x="423.60" y="283.50" font-size="6.3" font-weight="normal" text-anchor="end" fill="#2a2a2a">0</text>
<line x1="427.90" y1="202.10" x2="429.40" y2="202.10" stroke="#111" stroke-width="0.6"/>
<line x1="427.90" y1="205.26" x2="429.40" y2="205.26" stroke="#111" stroke-width="0.6"/>
<line x1="427.90" y1="208.42" x2="429.40" y2="208.42" stroke="#111" stroke-width="0.6"/>
<line x1="427.90" y1="211.58" x2="429.40" y2="211.58" stroke="#111" stroke-width="0.6"/>
<line x1="427.90" y1="214.74" x2="429.40" y2="214.74" stroke="#111" stroke-width="0.6"/>
<line x1="427.90" y1="217.90" x2="429.40" y2="217.90" stroke="#111" stroke-width="0.6"/>
<line x1="427.90" y1="221.06" x2="429.40" y2="221.06" stroke="#111" stroke-width="0.6"/>
<line x1="427.90" y1="224.22" x2="429.40" y2="224.22" stroke="#111" stroke-width="0.6"/>
<line x1="427.90" y1="227.38" x2="429.40" y2="227.38" stroke="#111" stroke-width="0.6"/>
<line x1="427.90" y1="230.54" x2="429.40" y2="230.54" stroke="#111" stroke-width="0.6"/>
<line x1="427.90" y1="233.70" x2="429.40" y2="233.70" stroke="#111" stroke-width="0.6"/>
<line x1="427.90" y1="236.86" x2="429.40" y2="236.86" stroke="#111" stroke-width="0.6"/>
<line x1="427.90" y1="240.02" x2="429.40" y2="240.02" stroke="#111" stroke-width="0.6"/>
<line x1="427.90" y1="243.18" x2="429.40" y2="243.18" stroke="#111" stroke-width="0.6"/>
<line x1="427.90" y1="246.34" x2="429.40" y2="246.34" stroke="#111" stroke-width="0.6"/>
<line x1="427.90" y1="249.50" x2="429.40" y2="249.50" stroke="#111" stroke-width="0.6"/>
<line x1="427.90" y1="252.66" x2="429.40" y2="252.66" stroke="#111" stroke-width="0.6"/>
<line x1="427.90" y1="255.82" x2="429.40" y2="255.82" stroke="#111" stroke-width="0.6"/>
<line x1="427.90" y1="258.98" x2="429.40" y2="258.98" stroke="#111" stroke-width="0.6"/>
<line x1="427.90" y1="262.14" x2="429.40" y2="262.14" stroke="#111" stroke-width="0.6"/>
<line x1="427.90" y1="265.30" x2="429.40" y2="265.30" stroke="#111" stroke-width="0.6"/>
<line x1="427.90" y1="268.46" x2="429.40" y2="268.46" stroke="#111" stroke-width="0.6"/>
<line x1="427.90" y1="271.62" x2="429.40" y2="271.62" stroke="#111" stroke-width="0.6"/>
<line x1="427.90" y1="274.78" x2="429.40" y2="274.78" stroke="#111" stroke-width="0.6"/>
<line x1="427.90" y1="277.94" x2="429.40" y2="277.94" stroke="#111" stroke-width="0.6"/>
<line x1="438.20" y1="281.30" x2="438.20" y2="284.30" stroke="#111" stroke-width="1.0"/>
<line x1="434.20" y1="281.30" x2="434.20" y2="282.90" stroke="#111" stroke-width="0.6"/>
<line x1="446.70" y1="281.30" x2="446.70" y2="284.30" stroke="#111" stroke-width="1.0"/>
<line x1="452.57" y1="281.30" x2="452.57" y2="282.90" stroke="#111" stroke-width="0.6"/>
<line x1="456.00" y1="281.30" x2="456.00" y2="282.90" stroke="#111" stroke-width="0.6"/>
<line x1="458.44" y1="281.30" x2="458.44" y2="282.90" stroke="#111" stroke-width="0.6"/>
<line x1="460.33" y1="281.30" x2="460.33" y2="282.90" stroke="#111" stroke-width="0.6"/>
<line x1="461.87" y1="281.30" x2="461.87" y2="282.90" stroke="#111" stroke-width="0.6"/>
<line x1="463.18" y1="281.30" x2="463.18" y2="282.90" stroke="#111" stroke-width="0.6"/>
<line x1="464.31" y1="281.30" x2="464.31" y2="282.90" stroke="#111" stroke-width="0.6"/>
<line x1="465.31" y1="281.30" x2="465.31" y2="282.90" stroke="#111" stroke-width="0.6"/>
<text x="446.80" y="293.70" font-size="6.3" text-anchor="middle" fill="#2a2a2a">10<tspan font-size="3.91" dy="-2.65">2</tspan></text>
<line x1="467.00" y1="281.30" x2="467.00" y2="284.30" stroke="#111" stroke-width="1.0"/>
<line x1="472.87" y1="281.30" x2="472.87" y2="282.90" stroke="#111" stroke-width="0.6"/>
<line x1="476.30" y1="281.30" x2="476.30" y2="282.90" stroke="#111" stroke-width="0.6"/>
<line x1="478.74" y1="281.30" x2="478.74" y2="282.90" stroke="#111" stroke-width="0.6"/>
<line x1="480.63" y1="281.30" x2="480.63" y2="282.90" stroke="#111" stroke-width="0.6"/>
<line x1="482.17" y1="281.30" x2="482.17" y2="282.90" stroke="#111" stroke-width="0.6"/>
<line x1="483.48" y1="281.30" x2="483.48" y2="282.90" stroke="#111" stroke-width="0.6"/>
<line x1="484.61" y1="281.30" x2="484.61" y2="282.90" stroke="#111" stroke-width="0.6"/>
<line x1="485.61" y1="281.30" x2="485.61" y2="282.90" stroke="#111" stroke-width="0.6"/>
<text x="467.10" y="293.70" font-size="6.3" text-anchor="middle" fill="#2a2a2a">10<tspan font-size="3.91" dy="-2.65">3</tspan></text>
<line x1="486.40" y1="281.30" x2="486.40" y2="284.30" stroke="#111" stroke-width="1.0"/>
<line x1="492.27" y1="281.30" x2="492.27" y2="282.90" stroke="#111" stroke-width="0.6"/>
<line x1="495.70" y1="281.30" x2="495.70" y2="282.90" stroke="#111" stroke-width="0.6"/>
<line x1="498.14" y1="281.30" x2="498.14" y2="282.90" stroke="#111" stroke-width="0.6"/>
<line x1="500.03" y1="281.30" x2="500.03" y2="282.90" stroke="#111" stroke-width="0.6"/>
<line x1="501.57" y1="281.30" x2="501.57" y2="282.90" stroke="#111" stroke-width="0.6"/>
<line x1="502.88" y1="281.30" x2="502.88" y2="282.90" stroke="#111" stroke-width="0.6"/>
<line x1="504.01" y1="281.30" x2="504.01" y2="282.90" stroke="#111" stroke-width="0.6"/>
<line x1="505.01" y1="281.30" x2="505.01" y2="282.90" stroke="#111" stroke-width="0.6"/>
<text x="486.50" y="293.70" font-size="6.3" text-anchor="middle" fill="#2a2a2a">10<tspan font-size="3.91" dy="-2.65">4</tspan></text>
<line x1="504.90" y1="281.30" x2="504.90" y2="284.30" stroke="#111" stroke-width="1.0"/>
<text x="505.00" y="293.70" font-size="6.3" text-anchor="middle" fill="#2a2a2a">10<tspan font-size="3.91" dy="-2.65">5</tspan></text>
<text x="438.20" y="293.70" font-size="6.3" font-weight="normal" text-anchor="middle" fill="#2a2a2a">0</text>
<text x="0" y="0" font-size="8.2" fill="#2a2a2a" text-anchor="middle" transform="translate(407.40,239.8) rotate(-90)" textLength="32.3" lengthAdjust="spacingAndGlyphs">% of max</text>
<line x1="32.10" y1="301.00" x2="65.90" y2="301.00" stroke="#2a2a2a" stroke-width="1.45"/>
<path d="M71.90,301.00 L64.20,304.40 L65.40,301.00 L64.20,297.60 Z" fill="#111"/>
<text x="33.20" y="314.70" font-size="8.3" font-weight="normal" text-anchor="start" fill="#2a2a2a" textLength="33.5" lengthAdjust="spacingAndGlyphs">Hes1-GFP</text>
<line x1="297.10" y1="301.00" x2="330.30" y2="301.00" stroke="#2a2a2a" stroke-width="1.45"/>
<path d="M336.30,301.00 L328.60,304.40 L329.80,301.00 L328.60,297.60 Z" fill="#111"/>
<text x="302.30" y="314.70" font-size="8.3" font-weight="normal" text-anchor="start" fill="#2a2a2a" textLength="33.4" lengthAdjust="spacingAndGlyphs">Hes1-GFP</text>
<line x1="188.80" y1="311.00" x2="205.80" y2="311.00" stroke="#111" stroke-width="2"/>
<text x="208.80" y="313.40" font-size="7" font-weight="normal" text-anchor="start" fill="#2a2a2a" textLength="40" lengthAdjust="spacingAndGlyphs">Cultured cells</text>
<line x1="188.80" y1="323.80" x2="205.80" y2="323.80" stroke="#aaa" stroke-width="1.2"/>
<text x="208.80" y="326.10" font-size="7" font-weight="normal" text-anchor="start" fill="#2a2a2a" textLength="79.7" lengthAdjust="spacingAndGlyphs">Hes1-GFP negative control</text>
<text x="60.8" y="373" font-size="8.5" font-weight="bold" fill="#1a1a1a" textLength="45.4" lengthAdjust="spacingAndGlyphs">Hes1-GFP<tspan font-size="7.6" dy="-2.3">+</tspan></text>
<text x="84.20" y="382.80" font-size="8.5" font-weight="bold" text-anchor="middle" fill="#1a1a1a" textLength="24" lengthAdjust="spacingAndGlyphs">Type I</text>
<text x="84.20" y="393.60" font-size="8.3" font-weight="normal" text-anchor="middle" fill="#2a2a2a" textLength="28.5" lengthAdjust="spacingAndGlyphs">(0.1ee)</text>
<text x="133" y="373" font-size="8.5" font-weight="bold" fill="#1a1a1a" textLength="44.7" lengthAdjust="spacingAndGlyphs">Hes1-GFP<tspan font-size="7.6" dy="-2.3">+</tspan></text>
<text x="156.10" y="382.80" font-size="8.5" font-weight="bold" text-anchor="middle" fill="#1a1a1a" textLength="26.2" lengthAdjust="spacingAndGlyphs">Type II</text>
<text x="155.80" y="393.60" font-size="8.3" font-weight="normal" text-anchor="middle" fill="#2a2a2a" textLength="27" lengthAdjust="spacingAndGlyphs">(0.1ee)</text>
<line x1="118.80" y1="376.90" x2="118.80" y2="537.50" stroke="#111" stroke-width="1.5" stroke-dasharray="3.4,2.1"/>
<line x1="48.50" y1="394.00" x2="48.50" y2="510.60" stroke="#111" stroke-width="1.2"/>
<line x1="47.90" y1="510.60" x2="192.00" y2="510.60" stroke="#111" stroke-width="1.3"/>
<line x1="45.80" y1="396.80" x2="48.50" y2="396.80" stroke="#111" stroke-width="1.1"/>
<text x="41.60" y="399.50" font-size="7.5" font-weight="normal" text-anchor="end" fill="#2a2a2a">100</text>
<line x1="45.80" y1="419.56" x2="48.50" y2="419.56" stroke="#111" stroke-width="1.1"/>
<text x="41.60" y="422.26" font-size="7.5" font-weight="normal" text-anchor="end" fill="#2a2a2a">80</text>
<line x1="45.80" y1="442.32" x2="48.50" y2="442.32" stroke="#111" stroke-width="1.1"/>
<text x="41.60" y="445.02" font-size="7.5" font-weight="normal" text-anchor="end" fill="#2a2a2a">60</text>
<line x1="45.80" y1="465.08" x2="48.50" y2="465.08" stroke="#111" stroke-width="1.1"/>
<text x="41.60" y="467.78" font-size="7.5" font-weight="normal" text-anchor="end" fill="#2a2a2a">40</text>
<line x1="45.80" y1="487.84" x2="48.50" y2="487.84" stroke="#111" stroke-width="1.1"/>
<text x="41.60" y="490.54" font-size="7.5" font-weight="normal" text-anchor="end" fill="#2a2a2a">20</text>
<line x1="45.80" y1="510.60" x2="48.50" y2="510.60" stroke="#111" stroke-width="1.1"/>
<text x="41.60" y="513.30" font-size="7.5" font-weight="normal" text-anchor="end" fill="#2a2a2a">0</text>
<text x="0" y="0" font-size="9.3" fill="#2a2a2a" text-anchor="middle" transform="translate(23.5,452.2) rotate(-90)" textLength="63.5" lengthAdjust="spacingAndGlyphs">% of chimerism</text>
<path d="M59.40,428.96 L65.20,428.96 L62.30,423.45 Z" fill="#111"/>
<path d="M67.70,432.46 L73.50,432.46 L70.60,426.95 Z" fill="#111"/>
<path d="M63.30,453.96 L69.10,453.96 L66.20,448.45 Z" fill="#111"/>
<path d="M63.30,487.46 L69.10,487.46 L66.20,481.95 Z" fill="#111"/>
<path d="M63.30,502.86 L69.10,502.86 L66.20,497.35 Z" fill="#111"/>
<line x1="54.60" y1="458.30" x2="78.30" y2="458.30" stroke="#111" stroke-width="1.2"/>
<circle cx="102.1" cy="499.2" r="2.7" fill="#111"/>
<circle cx="94.2" cy="503.6" r="2.7" fill="#111"/>
<circle cx="97.8" cy="508.8" r="2.7" fill="#111"/>
<circle cx="102.1" cy="510" r="2.7" fill="#111"/>
<circle cx="106" cy="509.6" r="2.7" fill="#111"/>
<circle cx="109.8" cy="507.6" r="2.7" fill="#111"/>
<line x1="90.00" y1="506.40" x2="113.00" y2="506.40" stroke="#111" stroke-width="1.1"/>
<path d="M135.30,417.96 L141.10,417.96 L138.20,412.45 Z" fill="#111"/>
<path d="M135.30,433.46 L141.10,433.46 L138.20,427.95 Z" fill="#111"/>
<path d="M135.30,448.26 L141.10,448.26 L138.20,442.75 Z" fill="#111"/>
<path d="M135.30,497.46 L141.10,497.46 L138.20,491.95 Z" fill="#111"/>
<path d="M135.30,507.46 L141.10,507.46 L138.20,501.95 Z" fill="#111"/>
<line x1="126.20" y1="458.00" x2="150.10" y2="458.00" stroke="#111" stroke-width="1.2"/>
<circle cx="178" cy="423.2" r="2.7" fill="#111"/>
<circle cx="169.7" cy="429.1" r="2.7" fill="#111"/>
<circle cx="173.7" cy="437.7" r="2.7" fill="#111"/>
<circle cx="173.7" cy="448.2" r="2.7" fill="#111"/>
<circle cx="173.7" cy="457.3" r="2.7" fill="#111"/>
<circle cx="173.7" cy="469.7" r="2.7" fill="#111"/>
<line x1="162.00" y1="443.70" x2="185.90" y2="443.70" stroke="#111" stroke-width="1.2"/>
<path d="M68.7,414.8 L68.7,409.8 L104.2,409.8 L104.2,485" fill="none" stroke="#111" stroke-width="1.1"/>
<text x="86.00" y="408.20" font-size="7" font-weight="normal" text-anchor="middle" fill="#2a2a2a">**</text>
<text x="34.80" y="525.00" font-size="7.4" font-weight="normal" text-anchor="start" fill="#2a2a2a" textLength="13.5" lengthAdjust="spacingAndGlyphs">Dox</text>
<rect x="65.10" y="522" width="2.6" height="1.5" fill="#777"/>
<rect x="136.70" y="522" width="2.6" height="1.5" fill="#777"/>
<line x1="100.50" y1="523.10" x2="104.10" y2="523.10" stroke="#444" stroke-width="0.8"/>
<line x1="102.30" y1="521.30" x2="102.30" y2="524.90" stroke="#444" stroke-width="0.8"/>
<line x1="172.00" y1="523.10" x2="175.60" y2="523.10" stroke="#444" stroke-width="0.8"/>
<line x1="173.80" y1="521.30" x2="173.80" y2="524.90" stroke="#444" stroke-width="0.8"/>
</g>
</svg>
</body></html>
